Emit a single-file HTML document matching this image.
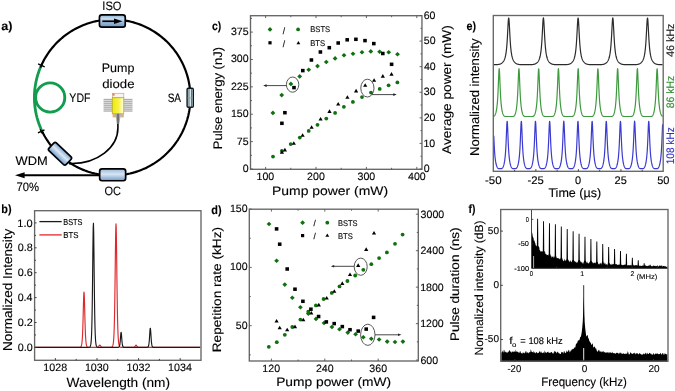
<!DOCTYPE html>
<html><head><meta charset="utf-8"><style>
html,body{margin:0;padding:0;background:#fff;}
svg{display:block;font-family:"Liberation Sans",sans-serif;will-change:transform;}
text{stroke-width:0.12px;paint-order:stroke;text-rendering:geometricPrecision;}
</style></head><body>
<svg width="675" height="391" viewBox="0 0 675 391" style="filter:blur(0.25px)">
<rect width="675" height="391" fill="#fff"/>
<text x="1.23" y="29.60" font-size="12.00" font-weight="bold" fill="#000" stroke="#000" textLength="11.20" lengthAdjust="spacingAndGlyphs">a)</text>
<path d="M41.33 65.37 L42.07 63.77 L42.85 62.19 L43.66 60.63 L44.51 59.09 L45.39 57.57 L46.31 56.07 L47.26 54.59 L48.25 53.13 L49.27 51.70 L50.31 50.28 L51.40 48.89 L52.51 47.53 L53.65 46.19 L54.82 44.88 L56.02 43.59 L57.25 42.34 L58.51 41.11 L59.80 39.91 L61.11 38.73 L62.45 37.59 L63.81 36.48 L65.20 35.40 L66.62 34.35 L68.05 33.33 L69.51 32.35 L70.99 31.40 L72.49 30.48 L74.01 29.60 L75.56 28.75 L77.12 27.94 L78.69 27.16 L80.29 26.42 L81.90 25.71 L83.53 25.04 L85.17 24.41 L86.83 23.81 L88.49 23.25 L90.18 22.73 L91.87 22.25 L93.57 21.81 L95.28 21.40 L97.00 21.03 L98.73 20.71 L100.47 20.42 L102.21 20.17 L103.96 19.96 L105.71 19.79 L107.46 19.66 L109.22 19.56 L110.98 19.51 L112.74 19.50 L114.50 19.53 L116.26 19.60 L118.01 19.70 L119.77 19.85 L121.52 20.03 L123.26 20.26 L125.00 20.52 L126.73 20.83 L128.46 21.17 L130.18 21.55 L131.89 21.97 L133.58 22.43 L135.27 22.93 L136.95 23.46 L138.61 24.04 L140.26 24.65 L141.90 25.29 L143.52 25.98 L145.13 26.70 L146.71 27.45 L148.29 28.25 L149.84 29.07 L151.37 29.93 L152.89 30.83 L154.38 31.76 L155.85 32.72 L157.30 33.72 L158.73 34.75 L160.13 35.81 L161.51 36.90 L162.87 38.03 L164.20 39.18 L165.50 40.36 L166.77 41.58 L168.02 42.82 L169.24 44.09 L170.43 45.38 L171.59 46.70 L172.72 48.05 L173.82 49.42 L174.89 50.82 L175.93 52.24 L176.93 53.69 L177.91 55.16 L178.84 56.64 L179.75 58.15 L180.62 59.68 L181.45 61.23 L182.26 62.80 L183.02 64.38 L183.75 65.98 L184.44 67.60 L185.10 69.23 L185.72 70.88 L186.30 72.54 L186.84 74.22 L187.35 75.90 L187.82 77.60 L188.25 79.30 L188.64 81.02 L188.99 82.74 L189.30 84.47 L189.58 86.21 L189.81 87.96 L190.01 89.70 L190.17 91.46 L190.28 93.21 L190.36 94.97 L190.40 96.73 L190.39 98.49 L190.35 100.25 L190.27 102.01 L190.15 103.76 L189.99 105.51 L189.79 107.26 L189.55 109.00 L189.27 110.74 L188.95 112.47 L188.59 114.20 L188.20 115.91 L187.76 117.62 L187.29 119.31 L186.78 120.99 L186.23 122.67 L185.64 124.32 L185.02 125.97 L184.36 127.60 L183.66 129.22 L182.93 130.82 L182.16 132.40 L181.35 133.96 L180.51 135.51 L179.64 137.04 L178.73 138.54 L177.79 140.03 L176.81 141.49 L175.80 142.93 L174.76 144.35 L173.69 145.75 L172.58 147.12 L171.45 148.46 L170.28 149.78 L169.09 151.07 L167.87 152.34 L166.62 153.58 L165.34 154.78 L164.03 155.96 L162.70 157.11 L161.34 158.23 L159.96 159.32 L158.55 160.38 L157.12 161.40 L155.67 162.40 L154.20 163.36 L152.70 164.28 L151.18 165.17 L149.65 166.03 L148.09 166.86 L146.52 167.64 L144.93 168.39 L143.32 169.11 L141.70 169.79 L140.06 170.43 L138.41 171.04 L136.74 171.60 L135.06 172.14 L133.37 172.63 L131.67 173.08 L129.96 173.50 L128.24 173.87 L126.52 174.21 L124.78 174.51 L123.04 174.77 L121.30 174.99 L119.55 175.17 L117.79 175.31 L116.04 175.42 L114.28 175.48 L112.52 175.50 L110.76 175.48 L109.00 175.43 L107.24 175.33 L105.49 175.19 L103.74 175.02 L101.99 174.80 L100.25 174.55 L98.52 174.25 L96.79 173.92 L95.07 173.55 L93.36 173.14 L91.66 172.69 L89.97 172.20 L88.29 171.68 L86.62 171.12 L84.97 170.52 L83.33 169.88 L81.70 169.20 L80.09 168.49 L78.50 167.75 L76.92 166.96 L75.36 166.15 L73.82 165.29 L72.30 164.41 L70.81 163.48 L69.33 162.53 L67.87 161.54 L66.44 160.52 L65.03 159.47 L63.64 158.38 L62.28 157.27 L60.95 156.12 L59.64 154.95 L58.35 153.74 L57.10 152.51 L55.87 151.25 L54.68 149.96 L53.51 148.64 L52.37 147.30 L51.26 145.93 L50.18 144.54 L49.14 143.13 L48.12 141.69 L47.14 140.23 L46.20 138.74 L45.28 137.24 L44.40 135.72 L43.56 134.17 L42.75 132.61 L41.98 131.03" fill="none" stroke="#000" stroke-width="2.2"/>
<path d="M41.98 131.03 L41.50 130.01 L41.03 128.98 L40.59 127.94 L40.15 126.90 L39.73 125.85 L39.33 124.79 L38.94 123.73 L38.57 122.66 L38.21 121.59 L37.87 120.52 L37.55 119.43 L37.24 118.35 L36.94 117.26 L36.67 116.16 L36.40 115.06 L36.16 113.96 L35.93 112.86 L35.71 111.75 L35.51 110.63 L35.33 109.52 L35.17 108.40 L35.02 107.28 L34.88 106.16 L34.76 105.04 L34.66 103.91 L34.58 102.79 L34.51 101.66 L34.46 100.53 L34.42 99.40 L34.40 98.27 L34.40 97.14 L34.41 96.01 L34.44 94.88 L34.49 93.75 L34.55 92.63 L34.63 91.50 L34.73 90.37 L34.84 89.25 L34.97 88.13 L35.11 87.01 L35.27 85.89 L35.45 84.77 L35.64 83.66 L35.85 82.55 L36.07 81.44 L36.31 80.34 L36.57 79.24 L36.84 78.14 L37.13 77.05 L37.43 75.96 L37.75 74.88 L38.09 73.80 L38.44 72.72 L38.81 71.66 L39.19 70.59 L39.59 69.54 L40.00 68.48 L40.43 67.44 L40.87 66.40 L41.33 65.37" fill="none" stroke="#129c4e" stroke-width="2.8"/>
<circle cx="50.2" cy="97.5" r="14.6" fill="none" stroke="#129c4e" stroke-width="2.9"/>
<g transform="translate(41.40 65.40) rotate(24)"><path d="M-3.6 0 H3.6 M0 -2.4 V2.4" stroke="#000" stroke-width="1.4"/></g>
<g transform="translate(41.20 131.40) rotate(-25)"><path d="M-3.6 0 H3.6 M0 -2.4 V2.4" stroke="#000" stroke-width="1.4"/></g>
<path d="M117.9 121 V128 A46 35.5 0 0 1 71.9 163.5 L69 163.6" fill="none" stroke="#000" stroke-width="1.6"/>
<path d="M22 175.3 L100 175.3" stroke="#000" stroke-width="2.0"/>
<path d="M15.0 175.3 L24.6 172.3 L24.6 178.3 Z" fill="#000"/>
<defs>
<linearGradient id="gb" x1="0" y1="0" x2="0" y2="1">
<stop offset="0" stop-color="#8fb2d8"/><stop offset="0.3" stop-color="#c8dcef"/><stop offset="0.55" stop-color="#a3c1e0"/><stop offset="1" stop-color="#6a93c2"/></linearGradient>
<linearGradient id="go" x1="0" y1="0" x2="0" y2="1">
<stop offset="0" stop-color="#9ab8da"/><stop offset="0.45" stop-color="#d8e6f3"/><stop offset="1" stop-color="#7199c6"/></linearGradient>
<linearGradient id="gw" x1="0" y1="0" x2="0" y2="1">
<stop offset="0" stop-color="#7ea5d0"/><stop offset="0.45" stop-color="#dce9f5"/><stop offset="1" stop-color="#6f98c6"/></linearGradient>
<linearGradient id="gy" x1="0" y1="0" x2="1" y2="0">
<stop offset="0" stop-color="#f0ea00"/><stop offset="0.55" stop-color="#f7f24a"/><stop offset="1" stop-color="#ffffe8"/></linearGradient>
<linearGradient id="gsa" x1="0" y1="0" x2="1" y2="0">
<stop offset="0" stop-color="#bfe3ea"/><stop offset="0.5" stop-color="#eefafc"/><stop offset="1" stop-color="#bfe3ea"/></linearGradient>
</defs>
<rect x="99.45" y="14.9" width="25.8" height="12.3" rx="2.4" fill="url(#gb)" stroke="#000" stroke-width="1.7"/>
<path d="M102.3 21.25 L115 21.25" stroke="#000" stroke-width="1.7"/>
<path d="M114 18.4 L122.6 21.2 L114 23.9 Z" fill="#000"/>
<rect x="99.65" y="168.95" width="26" height="11.8" rx="2.4" fill="url(#go)" stroke="#000" stroke-width="1.7"/>
<g transform="translate(60.0 153.8) rotate(43.5)"><rect x="-11.85" y="-5.4" width="23.7" height="10.8" rx="2" fill="url(#gw)" stroke="#000" stroke-width="1.7"/></g>
<rect x="187.1" y="88.3" width="6.2" height="19.0" rx="1.2" fill="url(#gsa)" stroke="#0c161a" stroke-width="1.4"/>
<path d="M189.0 89 V107.4 M191.4 89 V107.4" stroke="#1e3a42" stroke-width="0.75"/>
<path d="M187.6 98 H192.8" stroke="#9a9a9a" stroke-width="0.9"/>
<rect x="103.6" y="98.8" width="29" height="12.8" fill="#e4e4e4"/>
<path d="M103.6 99.40 H132.4" stroke="#8c8c8c" stroke-width="0.7"/>
<path d="M103.6 101.35 H132.4" stroke="#8c8c8c" stroke-width="0.7"/>
<path d="M103.6 103.30 H132.4" stroke="#8c8c8c" stroke-width="0.7"/>
<path d="M103.6 105.25 H132.4" stroke="#8c8c8c" stroke-width="0.7"/>
<path d="M103.6 107.20 H132.4" stroke="#8c8c8c" stroke-width="0.7"/>
<path d="M103.6 109.15 H132.4" stroke="#8c8c8c" stroke-width="0.7"/>
<path d="M103.6 111.10 H132.4" stroke="#8c8c8c" stroke-width="0.7"/>
<rect x="112.4" y="93.3" width="11.4" height="4.6" fill="#fbf3ee" stroke="#d8a080" stroke-width="0.7"/>
<rect x="112.6" y="93.6" width="2" height="2" fill="#d0805a"/>
<rect x="112.2" y="97.8" width="11.6" height="16" fill="url(#gy)" stroke="#9a9a30" stroke-width="0.6"/>
<rect x="112.6" y="113.8" width="3.4" height="3.6" fill="#d8b08a"/>
<rect x="120.6" y="113.8" width="3.2" height="3.6" fill="#d8b08a"/>
<path d="M115.4 113.8 L121 113.8 L119.2 124 L116.8 124 Z" fill="#a8a8a8"/>
<path d="M118.0 113.8 V124" stroke="#333" stroke-width="0.9"/>
<text x="102.37" y="10.20" font-size="12.20" fill="#000" stroke="#000" textLength="19.16" lengthAdjust="spacingAndGlyphs">ISO</text>
<text x="101.77" y="72.40" font-size="12.20" fill="#000" stroke="#000" textLength="32.65" lengthAdjust="spacingAndGlyphs">Pump</text>
<text x="102.25" y="88.20" font-size="12.20" fill="#000" stroke="#000" textLength="32.24" lengthAdjust="spacingAndGlyphs">diode</text>
<text x="69.37" y="101.70" font-size="12.20" fill="#000" stroke="#000" textLength="21.05" lengthAdjust="spacingAndGlyphs">YDF</text>
<text x="167.64" y="101.70" font-size="12.20" fill="#000" stroke="#000" textLength="13.48" lengthAdjust="spacingAndGlyphs">SA</text>
<text x="15.64" y="164.90" font-size="12.20" fill="#000" stroke="#000" textLength="32.21" lengthAdjust="spacingAndGlyphs">WDM</text>
<text x="16.52" y="190.80" font-size="12.20" fill="#000" stroke="#000" textLength="22.58" lengthAdjust="spacingAndGlyphs">70%</text>
<text x="104.38" y="195.30" font-size="12.20" fill="#000" stroke="#000" textLength="16.54" lengthAdjust="spacingAndGlyphs">OC</text>
<text x="1.28" y="213.20" font-size="12.00" font-weight="bold" fill="#000" stroke="#000" textLength="10.26" lengthAdjust="spacingAndGlyphs">b)</text>
<path d="M35.20 347.40 L35.45 347.40 L35.70 347.40 L35.95 347.40 L36.20 347.40 L36.45 347.40 L36.70 347.40 L36.95 347.40 L37.20 347.40 L37.45 347.40 L37.70 347.40 L37.95 347.40 L38.20 347.40 L38.45 347.40 L38.70 347.40 L38.95 347.40 L39.20 347.40 L39.45 347.40 L39.70 347.40 L39.95 347.40 L40.20 347.40 L40.45 347.40 L40.70 347.40 L40.95 347.40 L41.20 347.40 L41.45 347.40 L41.70 347.40 L41.95 347.40 L42.20 347.40 L42.45 347.40 L42.70 347.40 L42.95 347.40 L43.20 347.40 L43.45 347.40 L43.70 347.40 L43.95 347.40 L44.20 347.40 L44.45 347.40 L44.70 347.40 L44.95 347.40 L45.20 347.40 L45.45 347.40 L45.70 347.40 L45.95 347.40 L46.20 347.40 L46.45 347.40 L46.70 347.40 L46.95 347.40 L47.20 347.40 L47.45 347.40 L47.70 347.40 L47.95 347.40 L48.20 347.40 L48.45 347.40 L48.70 347.40 L48.95 347.40 L49.20 347.40 L49.45 347.40 L49.70 347.40 L49.95 347.40 L50.20 347.40 L50.45 347.40 L50.70 347.40 L50.95 347.40 L51.20 347.40 L51.45 347.40 L51.70 347.40 L51.95 347.40 L52.20 347.40 L52.45 347.40 L52.70 347.40 L52.95 347.40 L53.20 347.40 L53.45 347.40 L53.70 347.40 L53.95 347.40 L54.20 347.40 L54.45 347.40 L54.70 347.40 L54.95 347.40 L55.20 347.40 L55.45 347.40 L55.70 347.40 L55.95 347.40 L56.20 347.40 L56.45 347.40 L56.70 347.40 L56.95 347.40 L57.20 347.40 L57.45 347.40 L57.70 347.40 L57.95 347.40 L58.20 347.40 L58.45 347.40 L58.70 347.40 L58.95 347.40 L59.20 347.40 L59.45 347.40 L59.70 347.40 L59.95 347.40 L60.20 347.40 L60.45 347.40 L60.70 347.40 L60.95 347.40 L61.20 347.40 L61.45 347.40 L61.70 347.40 L61.95 347.40 L62.20 347.40 L62.45 347.40 L62.70 347.40 L62.95 347.40 L63.20 347.40 L63.45 347.40 L63.70 347.40 L63.95 347.40 L64.20 347.40 L64.45 347.40 L64.70 347.40 L64.95 347.40 L65.20 347.40 L65.45 347.40 L65.70 347.40 L65.95 347.40 L66.20 347.40 L66.45 347.40 L66.70 347.40 L66.95 347.40 L67.20 347.40 L67.45 347.40 L67.70 347.40 L67.95 347.40 L68.20 347.40 L68.45 347.40 L68.70 347.40 L68.95 347.40 L69.20 347.40 L69.45 347.40 L69.70 347.40 L69.95 347.40 L70.20 347.40 L70.45 347.40 L70.70 347.40 L70.95 347.40 L71.20 347.40 L71.45 347.40 L71.70 347.40 L71.95 347.40 L72.20 347.40 L72.45 347.40 L72.70 347.40 L72.95 347.40 L73.20 347.40 L73.45 347.40 L73.70 347.40 L73.95 347.40 L74.20 347.40 L74.45 347.40 L74.70 347.40 L74.95 347.40 L75.20 347.40 L75.45 347.40 L75.70 347.40 L75.95 347.40 L76.20 347.40 L76.45 347.40 L76.70 347.40 L76.95 347.40 L77.20 347.40 L77.45 347.40 L77.70 347.40 L77.95 347.40 L78.20 347.40 L78.45 347.39 L78.70 347.39 L78.95 347.38 L79.20 347.37 L79.45 347.35 L79.70 347.32 L79.95 347.28 L80.20 347.21 L80.45 347.10 L80.70 346.92 L80.95 346.63 L81.20 346.19 L81.45 345.48 L81.70 344.38 L81.95 342.68 L82.20 340.08 L82.45 336.21 L82.70 330.68 L82.95 323.21 L83.20 314.02 L83.45 304.25 L83.70 296.08 L83.95 292.12 L84.20 293.86 L84.45 300.64 L84.70 310.08 L84.95 319.70 L85.20 327.93 L85.45 334.22 L85.70 338.71 L85.95 341.76 L86.20 343.79 L86.45 345.10 L86.70 345.94 L86.95 346.48 L87.20 346.82 L87.45 347.03 L87.70 347.17 L87.95 347.25 L88.20 347.31 L88.45 347.34 L88.70 347.36 L88.95 347.38 L89.20 347.39 L89.45 347.39 L89.70 347.39 L89.95 347.40 L90.20 347.40 L90.45 347.40 L90.70 347.40 L90.95 347.40 L91.20 347.40 L91.45 347.40 L91.70 347.40 L91.95 347.40 L92.20 347.40 L92.45 347.40 L92.70 347.40 L92.95 347.40 L93.20 347.40 L93.45 347.40 L93.70 347.40 L93.95 347.40 L94.20 347.40 L94.45 347.40 L94.70 347.40 L94.95 347.40 L95.20 347.39 L95.45 347.39 L95.70 347.39 L95.95 347.38 L96.20 347.37 L96.45 347.36 L96.70 347.34 L96.95 347.31 L97.20 347.27 L97.45 347.20 L97.70 347.11 L97.95 346.98 L98.20 346.81 L98.45 346.57 L98.70 346.28 L98.95 345.95 L99.20 345.61 L99.45 345.33 L99.70 345.17 L99.95 345.19 L100.20 345.37 L100.45 345.67 L100.70 346.01 L100.95 346.34 L101.20 346.62 L101.45 346.84 L101.70 347.01 L101.95 347.13 L102.20 347.22 L102.45 347.28 L102.70 347.32 L102.95 347.34 L103.20 347.36 L103.45 347.37 L103.70 347.38 L103.95 347.39 L104.20 347.39 L104.45 347.39 L104.70 347.40 L104.95 347.40 L105.20 347.40 L105.45 347.40 L105.70 347.40 L105.95 347.40 L106.20 347.40 L106.45 347.40 L106.70 347.40 L106.95 347.40 L107.20 347.40 L107.45 347.40 L107.70 347.40 L107.95 347.40 L108.20 347.40 L108.45 347.40 L108.70 347.40 L108.95 347.40 L109.20 347.40 L109.45 347.40 L109.70 347.39 L109.95 347.39 L110.20 347.38 L110.45 347.37 L110.70 347.36 L110.95 347.33 L111.20 347.30 L111.45 347.24 L111.70 347.15 L111.95 347.01 L112.20 346.79 L112.45 346.46 L112.70 345.94 L112.95 345.13 L113.20 343.89 L113.45 341.99 L113.70 339.10 L113.95 334.74 L114.20 328.29 L114.45 318.99 L114.70 306.09 L114.95 289.27 L115.20 269.26 L115.45 248.62 L115.70 231.80 L115.95 223.76 L116.20 227.29 L116.45 241.14 L116.70 260.87 L116.95 281.55 L117.20 299.82 L117.45 314.29 L117.70 324.96 L117.95 332.45 L118.20 337.56 L118.45 340.98 L118.70 343.23 L118.95 344.70 L119.20 345.65 L119.45 346.27 L119.70 346.67 L119.95 346.93 L120.20 347.10 L120.45 347.21 L120.70 347.28 L120.95 347.32 L121.20 347.35 L121.45 347.37 L121.70 347.38 L121.95 347.39 L122.20 347.39 L122.45 347.39 L122.70 347.40 L122.95 347.40 L123.20 347.40 L123.45 347.40 L123.70 347.40 L123.95 347.40 L124.20 347.40 L124.45 347.40 L124.70 347.40 L124.95 347.40 L125.20 347.40 L125.45 347.40 L125.70 347.40 L125.95 347.40 L126.20 347.40 L126.45 347.40 L126.70 347.40 L126.95 347.40 L127.20 347.40 L127.45 347.40 L127.70 347.40 L127.95 347.40 L128.20 347.40 L128.45 347.40 L128.70 347.40 L128.95 347.40 L129.20 347.40 L129.45 347.40 L129.70 347.40 L129.95 347.40 L130.20 347.40 L130.45 347.40 L130.70 347.40 L130.95 347.40 L131.20 347.40 L131.45 347.40 L131.70 347.40 L131.95 347.39 L132.20 347.39 L132.45 347.38 L132.70 347.37 L132.95 347.36 L133.20 347.34 L133.45 347.30 L133.70 347.25 L133.95 347.17 L134.20 347.05 L134.45 346.89 L134.70 346.65 L134.95 346.35 L135.20 345.99 L135.45 345.61 L135.70 345.31 L135.95 345.16 L136.20 345.23 L136.45 345.48 L136.70 345.83 L136.95 346.21 L137.20 346.54 L137.45 346.80 L137.70 346.99 L137.95 347.13 L138.20 347.22 L138.45 347.28 L138.70 347.32 L138.95 347.35 L139.20 347.37 L139.45 347.38 L139.70 347.39 L139.95 347.39 L140.20 347.39 L140.45 347.40 L140.70 347.40 L140.95 347.40 L141.20 347.40 L141.45 347.40 L141.70 347.40 L141.95 347.40 L142.20 347.40 L142.45 347.40 L142.70 347.40 L142.95 347.40 L143.20 347.40 L143.45 347.40 L143.70 347.40 L143.95 347.40 L144.20 347.40 L144.45 347.40 L144.70 347.40 L144.95 347.40 L145.20 347.40 L145.45 347.40 L145.70 347.40 L145.95 347.40 L146.20 347.40 L146.45 347.40 L146.70 347.40 L146.95 347.40 L147.20 347.40 L147.45 347.40 L147.70 347.40 L147.95 347.40 L148.20 347.40 L148.45 347.40 L148.70 347.40 L148.95 347.40 L149.20 347.40 L149.45 347.40 L149.70 347.40 L149.95 347.40 L150.20 347.40 L150.45 347.40 L150.70 347.40 L150.95 347.40 L151.20 347.40 L151.45 347.40 L151.70 347.40 L151.95 347.40 L152.20 347.40 L152.45 347.40 L152.70 347.40 L152.95 347.40 L153.20 347.40 L153.45 347.40 L153.70 347.40 L153.95 347.40 L154.20 347.40 L154.45 347.40 L154.70 347.40 L154.95 347.40 L155.20 347.40 L155.45 347.40 L155.70 347.40 L155.95 347.40 L156.20 347.40 L156.45 347.40 L156.70 347.40 L156.95 347.40 L157.20 347.40 L157.45 347.40 L157.70 347.40 L157.95 347.40 L158.20 347.40 L158.45 347.40 L158.70 347.40 L158.95 347.40 L159.20 347.40 L159.45 347.40 L159.70 347.40 L159.95 347.40 L160.20 347.40 L160.45 347.40 L160.70 347.40 L160.95 347.40 L161.20 347.40 L161.45 347.40 L161.70 347.40 L161.95 347.40 L162.20 347.40 L162.45 347.40 L162.70 347.40 L162.95 347.40 L163.20 347.40 L163.45 347.40 L163.70 347.40 L163.95 347.40 L164.20 347.40 L164.45 347.40 L164.70 347.40 L164.95 347.40 L165.20 347.40 L165.45 347.40 L165.70 347.40 L165.95 347.40 L166.20 347.40 L166.45 347.40 L166.70 347.40 L166.95 347.40 L167.20 347.40 L167.45 347.40 L167.70 347.40 L167.95 347.40 L168.20 347.40 L168.45 347.40 L168.70 347.40 L168.95 347.40 L169.20 347.40 L169.45 347.40 L169.70 347.40 L169.95 347.40 L170.20 347.40 L170.45 347.40 L170.70 347.40 L170.95 347.40 L171.20 347.40 L171.45 347.40 L171.70 347.40 L171.95 347.40 L172.20 347.40 L172.45 347.40 L172.70 347.40 L172.95 347.40 L173.20 347.40 L173.45 347.40 L173.70 347.40 L173.95 347.40 L174.20 347.40 L174.45 347.40 L174.70 347.40 L174.95 347.40 L175.20 347.40 L175.45 347.40 L175.70 347.40 L175.95 347.40 L176.20 347.40 L176.45 347.40 L176.70 347.40 L176.95 347.40 L177.20 347.40 L177.45 347.40 L177.70 347.40 L177.95 347.40 L178.20 347.40 L178.45 347.40 L178.70 347.40 L178.95 347.40 L179.20 347.40 L179.45 347.40 L179.70 347.40 L179.95 347.40 L180.20 347.40 L180.45 347.40 L180.70 347.40 L180.95 347.40 L181.20 347.40 L181.45 347.40 L181.70 347.40 L181.95 347.40 L182.20 347.40 L182.45 347.40 L182.70 347.40 L182.95 347.40 L183.20 347.40 L183.45 347.40 L183.70 347.40 L183.95 347.40 L184.20 347.40 L184.45 347.40 L184.70 347.40 L184.95 347.40 L185.20 347.40 L185.45 347.40 L185.70 347.40 L185.95 347.40 L186.20 347.40 L186.45 347.40 L186.70 347.40 L186.95 347.40 L187.20 347.40 L187.45 347.40 L187.70 347.40 L187.95 347.40 L188.20 347.40 L188.45 347.40 L188.70 347.40 L188.95 347.40 L189.20 347.40 L189.45 347.40 L189.70 347.40 L189.95 347.40 L190.20 347.40 L190.45 347.40 L190.70 347.40 L190.95 347.40 L191.20 347.40 L191.45 347.40 L191.70 347.40 L191.95 347.40 L192.20 347.40 L192.45 347.40 L192.70 347.40 L192.95 347.40 L193.20 347.40 L193.45 347.40 L193.70 347.40 L193.95 347.40 L194.20 347.40 L194.45 347.40 L194.70 347.40 L194.95 347.40 L195.20 347.40 L195.45 347.40 L195.70 347.40 L195.95 347.40 L196.20 347.40 L196.45 347.40 L196.70 347.40 L196.95 347.40 L197.20 347.40 L197.45 347.40 L197.70 347.40 L197.95 347.40 L198.20 347.40 L198.45 347.40 L198.70 347.40 L198.95 347.40 L199.20 347.40 L199.45 347.40 L199.70 347.40 L199.95 347.40 L200.20 347.40" fill="none" stroke="#e0282c" stroke-width="1.15" stroke-linejoin="round"/>
<path d="M35.20 347.40 L35.45 347.40 L35.70 347.40 L35.95 347.40 L36.20 347.40 L36.45 347.40 L36.70 347.40 L36.95 347.40 L37.20 347.40 L37.45 347.40 L37.70 347.40 L37.95 347.40 L38.20 347.40 L38.45 347.40 L38.70 347.40 L38.95 347.40 L39.20 347.40 L39.45 347.40 L39.70 347.40 L39.95 347.40 L40.20 347.40 L40.45 347.40 L40.70 347.40 L40.95 347.40 L41.20 347.40 L41.45 347.40 L41.70 347.40 L41.95 347.40 L42.20 347.40 L42.45 347.40 L42.70 347.40 L42.95 347.40 L43.20 347.40 L43.45 347.40 L43.70 347.40 L43.95 347.40 L44.20 347.40 L44.45 347.40 L44.70 347.40 L44.95 347.40 L45.20 347.40 L45.45 347.40 L45.70 347.40 L45.95 347.40 L46.20 347.40 L46.45 347.40 L46.70 347.40 L46.95 347.40 L47.20 347.40 L47.45 347.40 L47.70 347.40 L47.95 347.40 L48.20 347.40 L48.45 347.40 L48.70 347.40 L48.95 347.40 L49.20 347.40 L49.45 347.40 L49.70 347.40 L49.95 347.40 L50.20 347.40 L50.45 347.40 L50.70 347.40 L50.95 347.40 L51.20 347.40 L51.45 347.40 L51.70 347.40 L51.95 347.40 L52.20 347.40 L52.45 347.40 L52.70 347.40 L52.95 347.40 L53.20 347.40 L53.45 347.40 L53.70 347.40 L53.95 347.40 L54.20 347.40 L54.45 347.40 L54.70 347.40 L54.95 347.40 L55.20 347.40 L55.45 347.40 L55.70 347.40 L55.95 347.40 L56.20 347.40 L56.45 347.40 L56.70 347.40 L56.95 347.40 L57.20 347.40 L57.45 347.40 L57.70 347.40 L57.95 347.40 L58.20 347.40 L58.45 347.40 L58.70 347.40 L58.95 347.40 L59.20 347.40 L59.45 347.40 L59.70 347.40 L59.95 347.40 L60.20 347.40 L60.45 347.40 L60.70 347.40 L60.95 347.40 L61.20 347.40 L61.45 347.40 L61.70 347.40 L61.95 347.40 L62.20 347.40 L62.45 347.40 L62.70 347.40 L62.95 347.40 L63.20 347.40 L63.45 347.40 L63.70 347.40 L63.95 347.40 L64.20 347.40 L64.45 347.40 L64.70 347.40 L64.95 347.40 L65.20 347.40 L65.45 347.40 L65.70 347.40 L65.95 347.40 L66.20 347.40 L66.45 347.40 L66.70 347.40 L66.95 347.40 L67.20 347.40 L67.45 347.40 L67.70 347.40 L67.95 347.40 L68.20 347.40 L68.45 347.40 L68.70 347.40 L68.95 347.40 L69.20 347.40 L69.45 347.40 L69.70 347.40 L69.95 347.40 L70.20 347.40 L70.45 347.40 L70.70 347.40 L70.95 347.40 L71.20 347.40 L71.45 347.40 L71.70 347.40 L71.95 347.40 L72.20 347.40 L72.45 347.40 L72.70 347.40 L72.95 347.40 L73.20 347.40 L73.45 347.40 L73.70 347.40 L73.95 347.40 L74.20 347.40 L74.45 347.40 L74.70 347.40 L74.95 347.40 L75.20 347.40 L75.45 347.40 L75.70 347.40 L75.95 347.40 L76.20 347.40 L76.45 347.40 L76.70 347.40 L76.95 347.40 L77.20 347.40 L77.45 347.40 L77.70 347.40 L77.95 347.40 L78.20 347.40 L78.45 347.40 L78.70 347.40 L78.95 347.40 L79.20 347.40 L79.45 347.40 L79.70 347.40 L79.95 347.40 L80.20 347.40 L80.45 347.40 L80.70 347.40 L80.95 347.40 L81.20 347.40 L81.45 347.40 L81.70 347.40 L81.95 347.40 L82.20 347.40 L82.45 347.40 L82.70 347.40 L82.95 347.40 L83.20 347.40 L83.45 347.40 L83.70 347.40 L83.95 347.40 L84.20 347.40 L84.45 347.40 L84.70 347.40 L84.95 347.40 L85.20 347.40 L85.45 347.40 L85.70 347.40 L85.95 347.40 L86.20 347.40 L86.45 347.40 L86.70 347.40 L86.95 347.40 L87.20 347.40 L87.45 347.40 L87.70 347.39 L87.95 347.39 L88.20 347.38 L88.45 347.37 L88.70 347.35 L88.95 347.32 L89.20 347.27 L89.45 347.18 L89.70 347.05 L89.95 346.82 L90.20 346.46 L90.45 345.87 L90.70 344.91 L90.95 343.37 L91.20 340.88 L91.45 336.94 L91.70 330.79 L91.95 321.44 L92.20 307.84 L92.45 289.39 L92.70 267.00 L92.95 244.27 L93.20 227.56 L93.45 223.20 L93.70 233.06 L93.95 253.04 L94.20 276.27 L94.45 297.34 L94.70 313.85 L94.95 325.63 L95.20 333.57 L95.45 338.74 L95.70 342.02 L95.95 344.07 L96.20 345.35 L96.45 346.14 L96.70 346.63 L96.95 346.93 L97.20 347.11 L97.45 347.22 L97.70 347.29 L97.95 347.33 L98.20 347.36 L98.45 347.37 L98.70 347.38 L98.95 347.39 L99.20 347.39 L99.45 347.40 L99.70 347.40 L99.95 347.40 L100.20 347.40 L100.45 347.40 L100.70 347.40 L100.95 347.40 L101.20 347.40 L101.45 347.40 L101.70 347.40 L101.95 347.40 L102.20 347.40 L102.45 347.40 L102.70 347.40 L102.95 347.40 L103.20 347.40 L103.45 347.40 L103.70 347.40 L103.95 347.40 L104.20 347.40 L104.45 347.40 L104.70 347.40 L104.95 347.40 L105.20 347.40 L105.45 347.40 L105.70 347.40 L105.95 347.40 L106.20 347.40 L106.45 347.40 L106.70 347.40 L106.95 347.40 L107.20 347.40 L107.45 347.40 L107.70 347.40 L107.95 347.40 L108.20 347.40 L108.45 347.40 L108.70 347.40 L108.95 347.40 L109.20 347.40 L109.45 347.40 L109.70 347.40 L109.95 347.40 L110.20 347.40 L110.45 347.40 L110.70 347.40 L110.95 347.40 L111.20 347.40 L111.45 347.40 L111.70 347.40 L111.95 347.40 L112.20 347.40 L112.45 347.40 L112.70 347.40 L112.95 347.40 L113.20 347.40 L113.45 347.40 L113.70 347.40 L113.95 347.40 L114.20 347.40 L114.45 347.40 L114.70 347.40 L114.95 347.40 L115.20 347.40 L115.45 347.40 L115.70 347.40 L115.95 347.40 L116.20 347.40 L116.45 347.40 L116.70 347.40 L116.95 347.40 L117.20 347.39 L117.45 347.39 L117.70 347.38 L117.95 347.36 L118.20 347.33 L118.45 347.28 L118.70 347.18 L118.95 347.01 L119.20 346.71 L119.45 346.18 L119.70 345.28 L119.95 343.80 L120.20 341.52 L120.45 338.43 L120.70 335.03 L120.95 332.55 L121.20 332.30 L121.45 334.41 L121.70 337.74 L121.95 340.96 L122.20 343.41 L122.45 345.04 L122.70 346.04 L122.95 346.63 L123.20 346.97 L123.45 347.16 L123.70 347.26 L123.95 347.32 L124.20 347.36 L124.45 347.38 L124.70 347.39 L124.95 347.39 L125.20 347.40 L125.45 347.40 L125.70 347.40 L125.95 347.40 L126.20 347.40 L126.45 347.40 L126.70 347.40 L126.95 347.40 L127.20 347.40 L127.45 347.40 L127.70 347.40 L127.95 347.40 L128.20 347.40 L128.45 347.40 L128.70 347.40 L128.95 347.40 L129.20 347.40 L129.45 347.40 L129.70 347.40 L129.95 347.40 L130.20 347.40 L130.45 347.40 L130.70 347.40 L130.95 347.40 L131.20 347.40 L131.45 347.40 L131.70 347.40 L131.95 347.40 L132.20 347.40 L132.45 347.40 L132.70 347.40 L132.95 347.40 L133.20 347.40 L133.45 347.40 L133.70 347.40 L133.95 347.40 L134.20 347.40 L134.45 347.40 L134.70 347.40 L134.95 347.40 L135.20 347.40 L135.45 347.40 L135.70 347.40 L135.95 347.40 L136.20 347.40 L136.45 347.40 L136.70 347.40 L136.95 347.40 L137.20 347.40 L137.45 347.40 L137.70 347.40 L137.95 347.40 L138.20 347.40 L138.45 347.40 L138.70 347.40 L138.95 347.40 L139.20 347.40 L139.45 347.40 L139.70 347.40 L139.95 347.40 L140.20 347.40 L140.45 347.40 L140.70 347.40 L140.95 347.40 L141.20 347.40 L141.45 347.40 L141.70 347.40 L141.95 347.40 L142.20 347.40 L142.45 347.40 L142.70 347.40 L142.95 347.40 L143.20 347.40 L143.45 347.40 L143.70 347.40 L143.95 347.40 L144.20 347.40 L144.45 347.40 L144.70 347.40 L144.95 347.40 L145.20 347.40 L145.45 347.40 L145.70 347.40 L145.95 347.39 L146.20 347.39 L146.45 347.38 L146.70 347.37 L146.95 347.35 L147.20 347.32 L147.45 347.26 L147.70 347.15 L147.95 346.97 L148.20 346.66 L148.45 346.13 L148.70 345.24 L148.95 343.81 L149.20 341.59 L149.45 338.43 L149.70 334.49 L149.95 330.60 L150.20 328.21 L150.45 328.50 L150.70 331.31 L150.95 335.31 L151.20 339.14 L151.45 342.11 L151.70 344.15 L151.95 345.46 L152.20 346.25 L152.45 346.73 L152.70 347.01 L152.95 347.18 L153.20 347.27 L153.45 347.33 L153.70 347.36 L153.95 347.38 L154.20 347.39 L154.45 347.39 L154.70 347.40 L154.95 347.40 L155.20 347.40 L155.45 347.40 L155.70 347.40 L155.95 347.40 L156.20 347.40 L156.45 347.40 L156.70 347.40 L156.95 347.40 L157.20 347.40 L157.45 347.40 L157.70 347.40 L157.95 347.40 L158.20 347.40 L158.45 347.40 L158.70 347.40 L158.95 347.40 L159.20 347.40 L159.45 347.40 L159.70 347.40 L159.95 347.40 L160.20 347.40 L160.45 347.40 L160.70 347.40 L160.95 347.40 L161.20 347.40 L161.45 347.40 L161.70 347.40 L161.95 347.40 L162.20 347.40 L162.45 347.40 L162.70 347.40 L162.95 347.40 L163.20 347.40 L163.45 347.40 L163.70 347.40 L163.95 347.40 L164.20 347.40 L164.45 347.40 L164.70 347.40 L164.95 347.40 L165.20 347.40 L165.45 347.40 L165.70 347.40 L165.95 347.40 L166.20 347.40 L166.45 347.40 L166.70 347.40 L166.95 347.40 L167.20 347.40 L167.45 347.40 L167.70 347.40 L167.95 347.40 L168.20 347.40 L168.45 347.40 L168.70 347.40 L168.95 347.40 L169.20 347.40 L169.45 347.40 L169.70 347.40 L169.95 347.40 L170.20 347.40 L170.45 347.40 L170.70 347.40 L170.95 347.40 L171.20 347.40 L171.45 347.40 L171.70 347.40 L171.95 347.40 L172.20 347.40 L172.45 347.40 L172.70 347.40 L172.95 347.40 L173.20 347.40 L173.45 347.40 L173.70 347.40 L173.95 347.40 L174.20 347.40 L174.45 347.40 L174.70 347.40 L174.95 347.40 L175.20 347.40 L175.45 347.40 L175.70 347.40 L175.95 347.40 L176.20 347.40 L176.45 347.40 L176.70 347.40 L176.95 347.40 L177.20 347.40 L177.45 347.40 L177.70 347.40 L177.95 347.40 L178.20 347.40 L178.45 347.40 L178.70 347.40 L178.95 347.40 L179.20 347.40 L179.45 347.40 L179.70 347.40 L179.95 347.40 L180.20 347.40 L180.45 347.40 L180.70 347.40 L180.95 347.40 L181.20 347.40 L181.45 347.40 L181.70 347.40 L181.95 347.40 L182.20 347.40 L182.45 347.40 L182.70 347.40 L182.95 347.40 L183.20 347.40 L183.45 347.40 L183.70 347.40 L183.95 347.40 L184.20 347.40 L184.45 347.40 L184.70 347.40 L184.95 347.40 L185.20 347.40 L185.45 347.40 L185.70 347.40 L185.95 347.40 L186.20 347.40 L186.45 347.40 L186.70 347.40 L186.95 347.40 L187.20 347.40 L187.45 347.40 L187.70 347.40 L187.95 347.40 L188.20 347.40 L188.45 347.40 L188.70 347.40 L188.95 347.40 L189.20 347.40 L189.45 347.40 L189.70 347.40 L189.95 347.40 L190.20 347.40 L190.45 347.40 L190.70 347.40 L190.95 347.40 L191.20 347.40 L191.45 347.40 L191.70 347.40 L191.95 347.40 L192.20 347.40 L192.45 347.40 L192.70 347.40 L192.95 347.40 L193.20 347.40 L193.45 347.40 L193.70 347.40 L193.95 347.40 L194.20 347.40 L194.45 347.40 L194.70 347.40 L194.95 347.40 L195.20 347.40 L195.45 347.40 L195.70 347.40 L195.95 347.40 L196.20 347.40 L196.45 347.40 L196.70 347.40 L196.95 347.40 L197.20 347.40 L197.45 347.40 L197.70 347.40 L197.95 347.40 L198.20 347.40 L198.45 347.40 L198.70 347.40 L198.95 347.40 L199.20 347.40 L199.45 347.40 L199.70 347.40 L199.95 347.40 L200.20 347.40" fill="none" stroke="#1a1a1a" stroke-width="1.15" stroke-linejoin="round"/>
<rect x="34.60" y="210.70" width="166.40" height="149.60" fill="none" stroke="#666" stroke-width="1.35"/>
<path d="M55.40 360.30 v-2.20 M97.00 360.30 v-2.20 M138.60 360.30 v-2.20 M180.20 360.30 v-2.20" stroke="#333" stroke-width="0.90"/>
<path d="M76.20 360.30 v-1.40 M117.80 360.30 v-1.40 M159.40 360.30 v-1.40" stroke="#333" stroke-width="0.90"/>
<path d="M34.60 347.40 h2.00 M34.60 322.50 h2.00 M34.60 297.60 h2.00 M34.60 272.70 h2.00 M34.60 247.80 h2.00 M34.60 222.90 h2.00" stroke="#333" stroke-width="0.90"/>
<path d="M34.60 334.95 h1.40 M34.60 310.05 h1.40 M34.60 285.15 h1.40 M34.60 260.25 h1.40 M34.60 235.35 h1.40" stroke="#333" stroke-width="0.90"/>
<path d="M39.4 221.6 H61.7" stroke="#1a1a1a" stroke-width="1.3"/>
<path d="M39.4 234.9 H61.7" stroke="#e0282c" stroke-width="1.3"/>
<text x="63.30" y="224.90" font-size="8.60" fill="#000" stroke="#000" textLength="19.14" lengthAdjust="spacingAndGlyphs">BSTS</text>
<text x="63.26" y="238.00" font-size="8.60" fill="#000" stroke="#000" textLength="15.20" lengthAdjust="spacingAndGlyphs">BTS</text>
<text x="17.26" y="226.50" font-size="10.70" fill="#000" stroke="#000" textLength="15.37" lengthAdjust="spacingAndGlyphs">1.0</text>
<text x="17.68" y="251.42" font-size="10.70" fill="#000" stroke="#000" textLength="14.99" lengthAdjust="spacingAndGlyphs">0.8</text>
<text x="17.68" y="276.34" font-size="10.70" fill="#000" stroke="#000" textLength="15.00" lengthAdjust="spacingAndGlyphs">0.6</text>
<text x="17.68" y="301.26" font-size="10.70" fill="#000" stroke="#000" textLength="14.83" lengthAdjust="spacingAndGlyphs">0.4</text>
<text x="17.68" y="326.18" font-size="10.70" fill="#000" stroke="#000" textLength="15.07" lengthAdjust="spacingAndGlyphs">0.2</text>
<text x="17.68" y="351.10" font-size="10.70" fill="#000" stroke="#000" textLength="14.94" lengthAdjust="spacingAndGlyphs">0.0</text>
<text x="43.32" y="371.10" font-size="10.70" fill="#000" stroke="#000" textLength="23.80" lengthAdjust="spacingAndGlyphs">1028</text>
<text x="84.90" y="371.10" font-size="10.70" fill="#000" stroke="#000" textLength="23.80" lengthAdjust="spacingAndGlyphs">1030</text>
<text x="126.56" y="371.10" font-size="10.70" fill="#000" stroke="#000" textLength="23.80" lengthAdjust="spacingAndGlyphs">1032</text>
<text x="168.05" y="371.10" font-size="10.70" fill="#000" stroke="#000" textLength="23.80" lengthAdjust="spacingAndGlyphs">1034</text>
<text x="66.54" y="386.60" font-size="13.20" fill="#000" stroke="#000" textLength="103.50" lengthAdjust="spacingAndGlyphs">Wavelength (nm)</text>
<text transform="translate(11.60 349.80) rotate(-90)" x="-1.11" y="0" font-size="12.90" fill="#000" stroke="#000" textLength="122.03" lengthAdjust="spacingAndGlyphs">Normalized Intensity</text>
<text x="211.89" y="29.80" font-size="12.00" font-weight="bold" fill="#000" stroke="#000" textLength="9.22" lengthAdjust="spacingAndGlyphs">c)</text>
<rect x="250.50" y="15.70" width="171.45" height="153.60" fill="none" stroke="#666" stroke-width="1.35"/>
<path d="M265.60 169.30 v-2.40 M316.00 169.30 v-2.40 M366.40 169.30 v-2.40 M416.80 169.30 v-2.40" stroke="#555" stroke-width="0.90"/>
<path d="M290.80 169.30 v-1.50 M341.20 169.30 v-1.50 M391.60 169.30 v-1.50" stroke="#555" stroke-width="0.90"/>
<path d="M265.60 15.70 v2.40 M316.00 15.70 v2.40 M366.40 15.70 v2.40 M416.80 15.70 v2.40" stroke="#555" stroke-width="0.90"/>
<path d="M290.80 15.70 v1.50 M341.20 15.70 v1.50 M391.60 15.70 v1.50" stroke="#555" stroke-width="0.90"/>
<path d="M250.50 169.00 h2.40 M250.50 141.62 h2.40 M250.50 114.23 h2.40 M250.50 86.85 h2.40 M250.50 59.47 h2.40 M250.50 32.09 h2.40" stroke="#555" stroke-width="0.90"/>
<path d="M250.50 155.31 h1.50 M250.50 127.93 h1.50 M250.50 100.54 h1.50 M250.50 73.16 h1.50 M250.50 45.78 h1.50 M250.50 18.40 h1.50" stroke="#555" stroke-width="0.90"/>
<path d="M421.95 169.00 h-2.40 M421.95 143.42 h-2.40 M421.95 117.83 h-2.40 M421.95 92.25 h-2.40 M421.95 66.67 h-2.40 M421.95 41.08 h-2.40 M421.95 15.50 h-2.40" stroke="#555" stroke-width="0.90"/>
<path d="M421.95 156.21 h-1.50 M421.95 130.63 h-1.50 M421.95 105.04 h-1.50 M421.95 79.46 h-1.50 M421.95 53.88 h-1.50 M421.95 28.29 h-1.50" stroke="#555" stroke-width="0.90"/>
<path d="M272.90 110.60 l2.4 2.3 l-2.4 2.3 l-2.4 -2.3 Z" fill="#0e700e"/>
<path d="M281.70 92.80 l2.4 2.3 l-2.4 2.3 l-2.4 -2.3 Z" fill="#0e700e"/>
<path d="M290.90 81.60 l2.4 2.3 l-2.4 2.3 l-2.4 -2.3 Z" fill="#0e700e"/>
<path d="M299.70 74.10 l2.4 2.3 l-2.4 2.3 l-2.4 -2.3 Z" fill="#0e700e"/>
<path d="M308.70 67.50 l2.4 2.3 l-2.4 2.3 l-2.4 -2.3 Z" fill="#0e700e"/>
<path d="M317.50 63.80 l2.4 2.3 l-2.4 2.3 l-2.4 -2.3 Z" fill="#0e700e"/>
<path d="M326.30 59.70 l2.4 2.3 l-2.4 2.3 l-2.4 -2.3 Z" fill="#0e700e"/>
<path d="M335.10 56.10 l2.4 2.3 l-2.4 2.3 l-2.4 -2.3 Z" fill="#0e700e"/>
<path d="M344.00 53.00 l2.4 2.3 l-2.4 2.3 l-2.4 -2.3 Z" fill="#0e700e"/>
<path d="M353.00 51.50 l2.4 2.3 l-2.4 2.3 l-2.4 -2.3 Z" fill="#0e700e"/>
<path d="M362.00 49.90 l2.4 2.3 l-2.4 2.3 l-2.4 -2.3 Z" fill="#0e700e"/>
<path d="M370.80 49.10 l2.4 2.3 l-2.4 2.3 l-2.4 -2.3 Z" fill="#0e700e"/>
<path d="M379.60 49.50 l2.4 2.3 l-2.4 2.3 l-2.4 -2.3 Z" fill="#0e700e"/>
<path d="M388.70 49.90 l2.4 2.3 l-2.4 2.3 l-2.4 -2.3 Z" fill="#0e700e"/>
<path d="M397.50 52.00 l2.4 2.3 l-2.4 2.3 l-2.4 -2.3 Z" fill="#0e700e"/>
<circle cx="273.00" cy="156.60" r="1.9" fill="#0e700e"/>
<circle cx="281.90" cy="150.80" r="1.9" fill="#0e700e"/>
<circle cx="290.70" cy="144.10" r="1.9" fill="#0e700e"/>
<circle cx="299.80" cy="137.60" r="1.9" fill="#0e700e"/>
<circle cx="308.70" cy="130.90" r="1.9" fill="#0e700e"/>
<circle cx="317.50" cy="124.80" r="1.9" fill="#0e700e"/>
<circle cx="326.30" cy="118.60" r="1.9" fill="#0e700e"/>
<circle cx="335.10" cy="112.90" r="1.9" fill="#0e700e"/>
<circle cx="343.90" cy="106.80" r="1.9" fill="#0e700e"/>
<circle cx="352.90" cy="101.90" r="1.9" fill="#0e700e"/>
<circle cx="362.00" cy="97.10" r="1.9" fill="#0e700e"/>
<circle cx="371.00" cy="92.60" r="1.9" fill="#0e700e"/>
<circle cx="379.70" cy="88.90" r="1.9" fill="#0e700e"/>
<circle cx="388.60" cy="85.30" r="1.9" fill="#0e700e"/>
<circle cx="397.40" cy="82.40" r="1.9" fill="#0e700e"/>
<rect x="280.10" y="121.55" width="3.6" height="3.5" fill="#000"/>
<rect x="283.10" y="110.95" width="3.6" height="3.5" fill="#000"/>
<rect x="292.20" y="85.85" width="3.6" height="3.5" fill="#000"/>
<rect x="301.00" y="68.85" width="3.6" height="3.5" fill="#000"/>
<rect x="309.60" y="58.25" width="3.6" height="3.5" fill="#000"/>
<rect x="318.60" y="50.25" width="3.6" height="3.5" fill="#000"/>
<rect x="327.50" y="45.95" width="3.6" height="3.5" fill="#000"/>
<rect x="336.40" y="41.25" width="3.6" height="3.5" fill="#000"/>
<rect x="345.40" y="38.05" width="3.6" height="3.5" fill="#000"/>
<rect x="354.10" y="37.55" width="3.6" height="3.5" fill="#000"/>
<rect x="363.20" y="38.85" width="3.6" height="3.5" fill="#000"/>
<rect x="372.00" y="41.85" width="3.6" height="3.5" fill="#000"/>
<rect x="381.00" y="51.75" width="3.6" height="3.5" fill="#000"/>
<rect x="389.80" y="62.55" width="3.6" height="3.5" fill="#000"/>
<path d="M281.90 150.10 l2.1 3.6 h-4.2 Z" fill="#000"/>
<path d="M284.90 147.80 l2.1 3.6 h-4.2 Z" fill="#000"/>
<path d="M293.80 141.20 l2.1 3.6 h-4.2 Z" fill="#000"/>
<path d="M302.60 133.20 l2.1 3.6 h-4.2 Z" fill="#000"/>
<path d="M311.60 125.20 l2.1 3.6 h-4.2 Z" fill="#000"/>
<path d="M320.60 117.00 l2.1 3.6 h-4.2 Z" fill="#000"/>
<path d="M329.50 109.30 l2.1 3.6 h-4.2 Z" fill="#000"/>
<path d="M338.20 101.90 l2.1 3.6 h-4.2 Z" fill="#000"/>
<path d="M347.40 95.20 l2.1 3.6 h-4.2 Z" fill="#000"/>
<path d="M356.10 88.80 l2.1 3.6 h-4.2 Z" fill="#000"/>
<path d="M365.20 83.20 l2.1 3.6 h-4.2 Z" fill="#000"/>
<path d="M374.10 78.20 l2.1 3.6 h-4.2 Z" fill="#000"/>
<path d="M382.80 74.10 l2.1 3.6 h-4.2 Z" fill="#000"/>
<path d="M391.50 72.10 l2.1 3.6 h-4.2 Z" fill="#000"/>
<ellipse cx="292.6" cy="84.6" rx="6.2" ry="7.6" fill="none" stroke="#444" stroke-width="0.9"/>
<path d="M286.4 85.6 H266" stroke="#333" stroke-width="0.9"/><path d="M263.2 85.6 l3.4 -1.3 v2.6 Z" fill="#222"/>
<ellipse cx="367.4" cy="88.1" rx="6.6" ry="8.9" fill="none" stroke="#444" stroke-width="0.9"/>
<path d="M372 94.6 H394" stroke="#333" stroke-width="0.9"/><path d="M396.7 94.6 l-3.4 -1.3 v2.6 Z" fill="#222"/>
<path d="M270 27.0 l2.4 2.4 l-2.4 2.4 l-2.4 -2.4 Z" fill="#0e700e"/>
<circle cx="298.1" cy="29.4" r="1.9" fill="#0e700e"/>
<rect x="268.4" y="41.2" width="3.2" height="3.2" fill="#000"/>
<path d="M298.4 40.9 l1.9 3.3 h-3.8 Z" fill="#000"/>
<text x="282.80" y="33.60" font-size="9.40" fill="#000" stroke="#000" textLength="2.40" lengthAdjust="spacingAndGlyphs">/</text>
<text x="282.80" y="47.00" font-size="9.40" fill="#000" stroke="#000" textLength="2.40" lengthAdjust="spacingAndGlyphs">/</text>
<text x="310.28" y="32.40" font-size="8.20" fill="#000" stroke="#000" textLength="19.87" lengthAdjust="spacingAndGlyphs">BSTS</text>
<text x="310.27" y="45.80" font-size="8.20" fill="#000" stroke="#000" textLength="14.88" lengthAdjust="spacingAndGlyphs">BTS</text>
<text x="230.96" y="34.99" font-size="10.60" fill="#000" stroke="#000" textLength="17.69" lengthAdjust="spacingAndGlyphs">375</text>
<text x="230.93" y="62.37" font-size="10.60" fill="#000" stroke="#000" textLength="17.69" lengthAdjust="spacingAndGlyphs">300</text>
<text x="230.96" y="89.75" font-size="10.60" fill="#000" stroke="#000" textLength="17.69" lengthAdjust="spacingAndGlyphs">225</text>
<text x="230.93" y="117.14" font-size="10.60" fill="#000" stroke="#000" textLength="17.69" lengthAdjust="spacingAndGlyphs">150</text>
<text x="236.85" y="144.52" font-size="10.60" fill="#000" stroke="#000" textLength="11.79" lengthAdjust="spacingAndGlyphs">75</text>
<text x="242.72" y="171.90" font-size="10.60" fill="#000" stroke="#000" textLength="5.90" lengthAdjust="spacingAndGlyphs">0</text>
<text x="256.56" y="180.40" font-size="10.60" fill="#000" stroke="#000" textLength="17.69" lengthAdjust="spacingAndGlyphs">100</text>
<text x="307.10" y="180.40" font-size="10.60" fill="#000" stroke="#000" textLength="17.69" lengthAdjust="spacingAndGlyphs">200</text>
<text x="357.56" y="180.40" font-size="10.60" fill="#000" stroke="#000" textLength="17.69" lengthAdjust="spacingAndGlyphs">300</text>
<text x="408.04" y="180.40" font-size="10.60" fill="#000" stroke="#000" textLength="17.69" lengthAdjust="spacingAndGlyphs">400</text>
<text x="423.79" y="172.10" font-size="10.60" fill="#000" stroke="#000" textLength="5.90" lengthAdjust="spacingAndGlyphs">0</text>
<text x="423.39" y="146.52" font-size="10.60" fill="#000" stroke="#000" textLength="11.79" lengthAdjust="spacingAndGlyphs">10</text>
<text x="423.67" y="120.93" font-size="10.60" fill="#000" stroke="#000" textLength="11.79" lengthAdjust="spacingAndGlyphs">20</text>
<text x="423.80" y="95.35" font-size="10.60" fill="#000" stroke="#000" textLength="11.79" lengthAdjust="spacingAndGlyphs">30</text>
<text x="423.96" y="69.77" font-size="10.60" fill="#000" stroke="#000" textLength="11.79" lengthAdjust="spacingAndGlyphs">40</text>
<text x="423.78" y="44.18" font-size="10.60" fill="#000" stroke="#000" textLength="11.79" lengthAdjust="spacingAndGlyphs">50</text>
<text x="423.66" y="18.60" font-size="10.60" fill="#000" stroke="#000" textLength="11.79" lengthAdjust="spacingAndGlyphs">60</text>
<text x="272.06" y="194.90" font-size="12.40" fill="#000" stroke="#000" textLength="116.11" lengthAdjust="spacingAndGlyphs">Pump power (mW)</text>
<text transform="translate(221.60 148.20) rotate(-90)" x="-1.07" y="0" font-size="12.40" fill="#000" stroke="#000" textLength="102.28" lengthAdjust="spacingAndGlyphs">Pulse energy (nJ)</text>
<text transform="translate(451.20 153.90) rotate(-90)" x="-0.03" y="0" font-size="12.60" fill="#000" stroke="#000" textLength="128.67" lengthAdjust="spacingAndGlyphs">Average power (mW)</text>
<text x="211.25" y="213.90" font-size="12.00" font-weight="bold" fill="#000" stroke="#000" textLength="10.29" lengthAdjust="spacingAndGlyphs">d)</text>
<rect x="249.30" y="209.20" width="169.00" height="151.80" fill="none" stroke="#666" stroke-width="1.35"/>
<path d="M271.40 361.00 v-2.40 M324.80 361.00 v-2.40 M378.20 361.00 v-2.40" stroke="#555" stroke-width="0.90"/>
<path d="M298.10 361.00 v-1.50 M351.50 361.00 v-1.50" stroke="#555" stroke-width="0.90"/>
<path d="M271.40 209.20 v2.40 M324.80 209.20 v2.40 M378.20 209.20 v2.40" stroke="#555" stroke-width="0.90"/>
<path d="M298.10 209.20 v1.50 M351.50 209.20 v1.50" stroke="#555" stroke-width="0.90"/>
<path d="M249.30 325.70 h2.40 M249.30 267.40 h2.40 M249.30 209.10 h2.40" stroke="#555" stroke-width="0.90"/>
<path d="M249.30 354.85 h1.50 M249.30 296.55 h1.50 M249.30 238.25 h1.50" stroke="#555" stroke-width="0.90"/>
<path d="M418.30 360.10 h-2.40 M418.30 323.63 h-2.40 M418.30 287.15 h-2.40 M418.30 250.68 h-2.40 M418.30 214.20 h-2.40" stroke="#555" stroke-width="0.90"/>
<path d="M418.30 341.86 h-1.50 M418.30 305.39 h-1.50 M418.30 268.92 h-1.50 M418.30 232.44 h-1.50" stroke="#555" stroke-width="0.90"/>
<path d="M269.00 221.70 l2.4 2.3 l-2.4 2.3 l-2.4 -2.3 Z" fill="#0e700e"/>
<path d="M276.60 258.50 l2.4 2.3 l-2.4 2.3 l-2.4 -2.3 Z" fill="#0e700e"/>
<path d="M284.80 282.30 l2.4 2.3 l-2.4 2.3 l-2.4 -2.3 Z" fill="#0e700e"/>
<path d="M292.30 295.50 l2.4 2.3 l-2.4 2.3 l-2.4 -2.3 Z" fill="#0e700e"/>
<path d="M300.40 305.00 l2.4 2.3 l-2.4 2.3 l-2.4 -2.3 Z" fill="#0e700e"/>
<path d="M308.30 311.30 l2.4 2.3 l-2.4 2.3 l-2.4 -2.3 Z" fill="#0e700e"/>
<path d="M316.00 316.60 l2.4 2.3 l-2.4 2.3 l-2.4 -2.3 Z" fill="#0e700e"/>
<path d="M324.00 320.70 l2.4 2.3 l-2.4 2.3 l-2.4 -2.3 Z" fill="#0e700e"/>
<path d="M331.90 324.70 l2.4 2.3 l-2.4 2.3 l-2.4 -2.3 Z" fill="#0e700e"/>
<path d="M339.50 327.00 l2.4 2.3 l-2.4 2.3 l-2.4 -2.3 Z" fill="#0e700e"/>
<path d="M347.80 330.30 l2.4 2.3 l-2.4 2.3 l-2.4 -2.3 Z" fill="#0e700e"/>
<path d="M355.60 331.90 l2.4 2.3 l-2.4 2.3 l-2.4 -2.3 Z" fill="#0e700e"/>
<path d="M363.30 335.00 l2.4 2.3 l-2.4 2.3 l-2.4 -2.3 Z" fill="#0e700e"/>
<path d="M371.30 336.40 l2.4 2.3 l-2.4 2.3 l-2.4 -2.3 Z" fill="#0e700e"/>
<path d="M379.10 337.20 l2.4 2.3 l-2.4 2.3 l-2.4 -2.3 Z" fill="#0e700e"/>
<path d="M387.20 339.30 l2.4 2.3 l-2.4 2.3 l-2.4 -2.3 Z" fill="#0e700e"/>
<path d="M395.00 339.70 l2.4 2.3 l-2.4 2.3 l-2.4 -2.3 Z" fill="#0e700e"/>
<path d="M402.90 339.30 l2.4 2.3 l-2.4 2.3 l-2.4 -2.3 Z" fill="#0e700e"/>
<circle cx="268.80" cy="346.80" r="1.9" fill="#0e700e"/>
<circle cx="276.80" cy="342.20" r="1.9" fill="#0e700e"/>
<circle cx="284.80" cy="334.80" r="1.9" fill="#0e700e"/>
<circle cx="292.30" cy="327.00" r="1.9" fill="#0e700e"/>
<circle cx="300.40" cy="319.60" r="1.9" fill="#0e700e"/>
<circle cx="308.30" cy="311.70" r="1.9" fill="#0e700e"/>
<circle cx="315.90" cy="305.40" r="1.9" fill="#0e700e"/>
<circle cx="323.60" cy="299.00" r="1.9" fill="#0e700e"/>
<circle cx="331.80" cy="292.90" r="1.9" fill="#0e700e"/>
<circle cx="339.50" cy="286.40" r="1.9" fill="#0e700e"/>
<circle cx="347.40" cy="281.00" r="1.9" fill="#0e700e"/>
<circle cx="355.20" cy="275.50" r="1.9" fill="#0e700e"/>
<circle cx="363.30" cy="269.80" r="1.9" fill="#0e700e"/>
<circle cx="371.30" cy="264.20" r="1.9" fill="#0e700e"/>
<circle cx="379.10" cy="258.10" r="1.9" fill="#0e700e"/>
<circle cx="386.90" cy="252.40" r="1.9" fill="#0e700e"/>
<circle cx="395.00" cy="243.80" r="1.9" fill="#0e700e"/>
<circle cx="402.60" cy="234.60" r="1.9" fill="#0e700e"/>
<rect x="274.80" y="227.15" width="3.6" height="3.5" fill="#000"/>
<rect x="277.90" y="242.45" width="3.6" height="3.5" fill="#000"/>
<rect x="285.40" y="267.25" width="3.6" height="3.5" fill="#000"/>
<rect x="293.20" y="287.45" width="3.6" height="3.5" fill="#000"/>
<rect x="301.10" y="299.55" width="3.6" height="3.5" fill="#000"/>
<rect x="309.10" y="307.45" width="3.6" height="3.5" fill="#000"/>
<rect x="316.80" y="314.75" width="3.6" height="3.5" fill="#000"/>
<rect x="324.50" y="320.15" width="3.6" height="3.5" fill="#000"/>
<rect x="332.40" y="321.85" width="3.6" height="3.5" fill="#000"/>
<rect x="340.50" y="324.85" width="3.6" height="3.5" fill="#000"/>
<rect x="348.20" y="327.95" width="3.6" height="3.5" fill="#000"/>
<rect x="356.40" y="329.35" width="3.6" height="3.5" fill="#000"/>
<rect x="364.40" y="327.35" width="3.6" height="3.5" fill="#000"/>
<rect x="371.80" y="315.65" width="3.6" height="3.5" fill="#000"/>
<path d="M276.60 318.90 l2.1 3.6 h-4.2 Z" fill="#000"/>
<path d="M279.70 325.70 l2.1 3.6 h-4.2 Z" fill="#000"/>
<path d="M287.20 327.70 l2.1 3.6 h-4.2 Z" fill="#000"/>
<path d="M295.00 324.60 l2.1 3.6 h-4.2 Z" fill="#000"/>
<path d="M303.30 317.70 l2.1 3.6 h-4.2 Z" fill="#000"/>
<path d="M311.30 311.00 l2.1 3.6 h-4.2 Z" fill="#000"/>
<path d="M318.80 302.80 l2.1 3.6 h-4.2 Z" fill="#000"/>
<path d="M326.70 296.00 l2.1 3.6 h-4.2 Z" fill="#000"/>
<path d="M334.30 289.20 l2.1 3.6 h-4.2 Z" fill="#000"/>
<path d="M342.30 281.30 l2.1 3.6 h-4.2 Z" fill="#000"/>
<path d="M350.00 272.50 l2.1 3.6 h-4.2 Z" fill="#000"/>
<path d="M358.20 263.30 l2.1 3.6 h-4.2 Z" fill="#000"/>
<path d="M366.20 247.30 l2.1 3.6 h-4.2 Z" fill="#000"/>
<path d="M374.00 231.00 l2.1 3.6 h-4.2 Z" fill="#000"/>
<ellipse cx="360.7" cy="266.7" rx="6.5" ry="8.6" fill="none" stroke="#444" stroke-width="0.9"/>
<path d="M354.2 266.3 H333.6" stroke="#333" stroke-width="0.9"/><path d="M330.8 266.3 l3.4 -1.3 v2.6 Z" fill="#222"/>
<ellipse cx="367.8" cy="334.8" rx="7.2" ry="10.6" fill="none" stroke="#444" stroke-width="0.9"/>
<path d="M375 334.8 H398.6" stroke="#333" stroke-width="0.9"/><path d="M401.4 334.8 l-3.4 -1.3 v2.6 Z" fill="#222"/>
<path d="M302.6 220.3 l2.4 2.4 l-2.4 2.4 l-2.4 -2.4 Z" fill="#0e700e"/>
<circle cx="327.3" cy="222.7" r="1.9" fill="#0e700e"/>
<rect x="301.0" y="234.0" width="3.2" height="3.2" fill="#000"/>
<path d="M327.3 233.5 l1.9 3.3 h-3.8 Z" fill="#000"/>
<text x="313.50" y="226.20" font-size="8.60" fill="#000" stroke="#000" textLength="2.30" lengthAdjust="spacingAndGlyphs">/</text>
<text x="313.50" y="239.40" font-size="8.60" fill="#000" stroke="#000" textLength="2.30" lengthAdjust="spacingAndGlyphs">/</text>
<text x="337.99" y="226.10" font-size="8.20" fill="#000" stroke="#000" textLength="19.56" lengthAdjust="spacingAndGlyphs">BSTS</text>
<text x="337.97" y="239.10" font-size="8.20" fill="#000" stroke="#000" textLength="14.88" lengthAdjust="spacingAndGlyphs">BTS</text>
<text x="229.93" y="212.00" font-size="10.60" fill="#000" stroke="#000" textLength="17.69" lengthAdjust="spacingAndGlyphs">150</text>
<text x="229.93" y="270.30" font-size="10.60" fill="#000" stroke="#000" textLength="17.69" lengthAdjust="spacingAndGlyphs">100</text>
<text x="235.82" y="328.60" font-size="10.60" fill="#000" stroke="#000" textLength="11.79" lengthAdjust="spacingAndGlyphs">50</text>
<text x="262.36" y="371.70" font-size="10.60" fill="#000" stroke="#000" textLength="17.69" lengthAdjust="spacingAndGlyphs">120</text>
<text x="315.90" y="371.70" font-size="10.60" fill="#000" stroke="#000" textLength="17.69" lengthAdjust="spacingAndGlyphs">240</text>
<text x="369.36" y="371.70" font-size="10.60" fill="#000" stroke="#000" textLength="17.69" lengthAdjust="spacingAndGlyphs">360</text>
<text x="420.46" y="363.60" font-size="10.60" fill="#000" stroke="#000" textLength="17.69" lengthAdjust="spacingAndGlyphs">600</text>
<text x="420.19" y="327.13" font-size="10.60" fill="#000" stroke="#000" textLength="23.58" lengthAdjust="spacingAndGlyphs">1200</text>
<text x="420.19" y="290.65" font-size="10.60" fill="#000" stroke="#000" textLength="23.58" lengthAdjust="spacingAndGlyphs">1800</text>
<text x="420.47" y="254.18" font-size="10.60" fill="#000" stroke="#000" textLength="23.58" lengthAdjust="spacingAndGlyphs">2400</text>
<text x="420.60" y="217.70" font-size="10.60" fill="#000" stroke="#000" textLength="23.58" lengthAdjust="spacingAndGlyphs">3000</text>
<text x="276.17" y="386.30" font-size="12.40" fill="#000" stroke="#000" textLength="114.99" lengthAdjust="spacingAndGlyphs">Pump power (mW)</text>
<text transform="translate(221.40 351.20) rotate(-90)" x="-1.12" y="0" font-size="12.20" fill="#000" stroke="#000" textLength="125.37" lengthAdjust="spacingAndGlyphs">Repetition rate (kHz)</text>
<text transform="translate(459.30 339.90) rotate(-90)" x="-1.11" y="0" font-size="12.40" fill="#000" stroke="#000" textLength="113.45" lengthAdjust="spacingAndGlyphs">Pulse duration (ns)</text>
<text x="466.58" y="29.60" font-size="12.00" font-weight="bold" fill="#000" stroke="#000" textLength="9.55" lengthAdjust="spacingAndGlyphs">e)</text>
<path d="M493.80 64.60 L494.00 64.60 L494.20 64.60 L494.40 64.60 L494.60 64.60 L494.80 64.60 L495.00 64.60 L495.20 64.60 L495.40 64.60 L495.60 64.60 L495.80 64.60 L496.00 64.60 L496.20 64.59 L496.40 64.59 L496.60 64.59 L496.80 64.58 L497.00 64.58 L497.20 64.57 L497.40 64.56 L497.60 64.55 L497.80 64.54 L498.00 64.52 L498.20 64.50 L498.40 64.48 L498.60 64.45 L498.80 64.42 L499.00 64.38 L499.20 64.34 L499.40 64.29 L499.60 64.24 L499.80 64.18 L500.00 64.11 L500.20 64.04 L500.40 63.96 L500.60 63.87 L500.80 63.77 L501.00 63.67 L501.20 63.55 L501.40 63.42 L501.60 63.29 L501.80 63.14 L502.00 62.98 L502.20 62.81 L502.40 62.62 L502.60 62.42 L502.80 62.20 L503.00 61.97 L503.20 61.71 L503.40 61.43 L503.60 61.13 L503.80 60.79 L504.00 60.42 L504.20 60.02 L504.40 59.57 L504.60 59.06 L504.80 58.50 L505.00 57.87 L505.20 57.16 L505.40 56.35 L505.60 55.42 L505.80 54.36 L506.00 53.14 L506.20 51.73 L506.40 50.09 L506.60 48.19 L506.80 45.99 L507.00 43.43 L507.20 40.51 L507.40 37.20 L507.60 33.55 L507.80 29.68 L508.00 25.81 L508.20 22.30 L508.40 19.59 L508.60 18.09 L508.80 18.09 L509.00 19.59 L509.20 22.30 L509.40 25.81 L509.60 29.68 L509.80 33.55 L510.00 37.20 L510.20 40.51 L510.40 43.43 L510.60 45.99 L510.80 48.19 L511.00 50.09 L511.20 51.73 L511.40 53.14 L511.60 54.36 L511.80 55.42 L512.00 56.35 L512.20 57.16 L512.40 57.87 L512.60 58.50 L512.80 59.06 L513.00 59.57 L513.20 60.02 L513.40 60.42 L513.60 60.79 L513.80 61.13 L514.00 61.43 L514.20 61.71 L514.40 61.97 L514.60 62.20 L514.80 62.42 L515.00 62.62 L515.20 62.81 L515.40 62.98 L515.60 63.14 L515.80 63.29 L516.00 63.42 L516.20 63.55 L516.40 63.67 L516.60 63.77 L516.80 63.87 L517.00 63.96 L517.20 64.04 L517.40 64.11 L517.60 64.18 L517.80 64.24 L518.00 64.29 L518.20 64.34 L518.40 64.38 L518.60 64.42 L518.80 64.45 L519.00 64.48 L519.20 64.50 L519.40 64.52 L519.60 64.54 L519.80 64.55 L520.00 64.56 L520.20 64.57 L520.40 64.58 L520.60 64.58 L520.80 64.59 L521.00 64.59 L521.20 64.59 L521.40 64.60 L521.60 64.60 L521.80 64.60 L522.00 64.60 L522.20 64.60 L522.40 64.60 L522.60 64.60 L522.80 64.60 L523.00 64.60 L523.20 64.60 L523.40 64.60 L523.60 64.60 L523.80 64.60 L524.00 64.60 L524.20 64.60 L524.40 64.60 L524.60 64.60 L524.80 64.60 L525.00 64.60 L525.20 64.60 L525.40 64.60 L525.60 64.60 L525.80 64.60 L526.00 64.60 L526.20 64.60 L526.40 64.60 L526.60 64.60 L526.80 64.60 L527.00 64.60 L527.20 64.60 L527.40 64.60 L527.60 64.60 L527.80 64.60 L528.00 64.60 L528.20 64.60 L528.40 64.60 L528.60 64.60 L528.80 64.60 L529.00 64.60 L529.20 64.60 L529.40 64.60 L529.60 64.60 L529.80 64.60 L530.00 64.60 L530.20 64.60 L530.40 64.60 L530.60 64.60 L530.80 64.59 L531.00 64.59 L531.20 64.59 L531.40 64.58 L531.60 64.58 L531.80 64.57 L532.00 64.57 L532.20 64.56 L532.40 64.54 L532.60 64.53 L532.80 64.51 L533.00 64.49 L533.20 64.46 L533.40 64.44 L533.60 64.40 L533.80 64.36 L534.00 64.32 L534.20 64.27 L534.40 64.21 L534.60 64.15 L534.80 64.08 L535.00 64.00 L535.20 63.92 L535.40 63.82 L535.60 63.72 L535.80 63.61 L536.00 63.49 L536.20 63.36 L536.40 63.21 L536.60 63.06 L536.80 62.90 L537.00 62.72 L537.20 62.52 L537.40 62.31 L537.60 62.09 L537.80 61.84 L538.00 61.57 L538.20 61.28 L538.40 60.96 L538.60 60.61 L538.80 60.23 L539.00 59.80 L539.20 59.32 L539.40 58.79 L539.60 58.20 L539.80 57.53 L540.00 56.77 L540.20 55.90 L540.40 54.91 L540.60 53.77 L540.80 52.46 L541.00 50.94 L541.20 49.18 L541.40 47.13 L541.60 44.76 L541.80 42.02 L542.00 38.90 L542.20 35.41 L542.40 31.63 L542.60 27.73 L542.80 23.99 L543.00 20.82 L543.20 18.66 L543.40 17.90 L543.60 18.66 L543.80 20.82 L544.00 23.99 L544.20 27.73 L544.40 31.63 L544.60 35.41 L544.80 38.90 L545.00 42.02 L545.20 44.76 L545.40 47.13 L545.60 49.18 L545.80 50.94 L546.00 52.46 L546.20 53.77 L546.40 54.91 L546.60 55.90 L546.80 56.77 L547.00 57.53 L547.20 58.20 L547.40 58.79 L547.60 59.32 L547.80 59.80 L548.00 60.23 L548.20 60.61 L548.40 60.96 L548.60 61.28 L548.80 61.57 L549.00 61.84 L549.20 62.09 L549.40 62.31 L549.60 62.52 L549.80 62.72 L550.00 62.90 L550.20 63.06 L550.40 63.21 L550.60 63.36 L550.80 63.49 L551.00 63.61 L551.20 63.72 L551.40 63.82 L551.60 63.92 L551.80 64.00 L552.00 64.08 L552.20 64.15 L552.40 64.21 L552.60 64.27 L552.80 64.32 L553.00 64.36 L553.20 64.40 L553.40 64.44 L553.60 64.46 L553.80 64.49 L554.00 64.51 L554.20 64.53 L554.40 64.54 L554.60 64.56 L554.80 64.57 L555.00 64.57 L555.20 64.58 L555.40 64.58 L555.60 64.59 L555.80 64.59 L556.00 64.59 L556.20 64.60 L556.40 64.60 L556.60 64.60 L556.80 64.60 L557.00 64.60 L557.20 64.60 L557.40 64.60 L557.60 64.60 L557.80 64.60 L558.00 64.60 L558.20 64.60 L558.40 64.60 L558.60 64.60 L558.80 64.60 L559.00 64.60 L559.20 64.60 L559.40 64.60 L559.60 64.60 L559.80 64.60 L560.00 64.60 L560.20 64.60 L560.40 64.60 L560.60 64.60 L560.80 64.60 L561.00 64.60 L561.20 64.60 L561.40 64.60 L561.60 64.60 L561.80 64.60 L562.00 64.60 L562.20 64.60 L562.40 64.60 L562.60 64.60 L562.80 64.60 L563.00 64.60 L563.20 64.60 L563.40 64.60 L563.60 64.60 L563.80 64.60 L564.00 64.60 L564.20 64.60 L564.40 64.60 L564.60 64.60 L564.80 64.60 L565.00 64.60 L565.20 64.60 L565.40 64.60 L565.60 64.59 L565.80 64.59 L566.00 64.59 L566.20 64.58 L566.40 64.58 L566.60 64.57 L566.80 64.56 L567.00 64.55 L567.20 64.54 L567.40 64.52 L567.60 64.50 L567.80 64.48 L568.00 64.45 L568.20 64.42 L568.40 64.38 L568.60 64.34 L568.80 64.29 L569.00 64.24 L569.20 64.18 L569.40 64.11 L569.60 64.04 L569.80 63.96 L570.00 63.87 L570.20 63.77 L570.40 63.67 L570.60 63.55 L570.80 63.42 L571.00 63.29 L571.20 63.14 L571.40 62.98 L571.60 62.81 L571.80 62.62 L572.00 62.42 L572.20 62.20 L572.40 61.97 L572.60 61.71 L572.80 61.43 L573.00 61.13 L573.20 60.79 L573.40 60.42 L573.60 60.02 L573.80 59.57 L574.00 59.06 L574.20 58.50 L574.40 57.87 L574.60 57.16 L574.80 56.35 L575.00 55.42 L575.20 54.36 L575.40 53.14 L575.60 51.73 L575.80 50.09 L576.00 48.19 L576.20 45.99 L576.40 43.43 L576.60 40.51 L576.80 37.20 L577.00 33.55 L577.20 29.68 L577.40 25.81 L577.60 22.30 L577.80 19.59 L578.00 18.09 L578.20 18.09 L578.40 19.59 L578.60 22.30 L578.80 25.81 L579.00 29.68 L579.20 33.55 L579.40 37.20 L579.60 40.51 L579.80 43.43 L580.00 45.99 L580.20 48.19 L580.40 50.09 L580.60 51.73 L580.80 53.14 L581.00 54.36 L581.20 55.42 L581.40 56.35 L581.60 57.16 L581.80 57.87 L582.00 58.50 L582.20 59.06 L582.40 59.57 L582.60 60.02 L582.80 60.42 L583.00 60.79 L583.20 61.13 L583.40 61.43 L583.60 61.71 L583.80 61.97 L584.00 62.20 L584.20 62.42 L584.40 62.62 L584.60 62.81 L584.80 62.98 L585.00 63.14 L585.20 63.29 L585.40 63.42 L585.60 63.55 L585.80 63.67 L586.00 63.77 L586.20 63.87 L586.40 63.96 L586.60 64.04 L586.80 64.11 L587.00 64.18 L587.20 64.24 L587.40 64.29 L587.60 64.34 L587.80 64.38 L588.00 64.42 L588.20 64.45 L588.40 64.48 L588.60 64.50 L588.80 64.52 L589.00 64.54 L589.20 64.55 L589.40 64.56 L589.60 64.57 L589.80 64.58 L590.00 64.58 L590.20 64.59 L590.40 64.59 L590.60 64.59 L590.80 64.60 L591.00 64.60 L591.20 64.60 L591.40 64.60 L591.60 64.60 L591.80 64.60 L592.00 64.60 L592.20 64.60 L592.40 64.60 L592.60 64.60 L592.80 64.60 L593.00 64.60 L593.20 64.60 L593.40 64.60 L593.60 64.60 L593.80 64.60 L594.00 64.60 L594.20 64.60 L594.40 64.60 L594.60 64.60 L594.80 64.60 L595.00 64.60 L595.20 64.60 L595.40 64.60 L595.60 64.60 L595.80 64.60 L596.00 64.60 L596.20 64.60 L596.40 64.60 L596.60 64.60 L596.80 64.60 L597.00 64.60 L597.20 64.60 L597.40 64.60 L597.60 64.60 L597.80 64.60 L598.00 64.60 L598.20 64.60 L598.40 64.60 L598.60 64.60 L598.80 64.60 L599.00 64.60 L599.20 64.60 L599.40 64.60 L599.60 64.60 L599.80 64.60 L600.00 64.60 L600.20 64.59 L600.40 64.59 L600.60 64.59 L600.80 64.58 L601.00 64.58 L601.20 64.57 L601.40 64.57 L601.60 64.56 L601.80 64.54 L602.00 64.53 L602.20 64.51 L602.40 64.49 L602.60 64.46 L602.80 64.44 L603.00 64.40 L603.20 64.36 L603.40 64.32 L603.60 64.27 L603.80 64.21 L604.00 64.15 L604.20 64.08 L604.40 64.00 L604.60 63.92 L604.80 63.82 L605.00 63.72 L605.20 63.61 L605.40 63.49 L605.60 63.36 L605.80 63.21 L606.00 63.06 L606.20 62.90 L606.40 62.72 L606.60 62.52 L606.80 62.31 L607.00 62.09 L607.20 61.84 L607.40 61.57 L607.60 61.28 L607.80 60.96 L608.00 60.61 L608.20 60.23 L608.40 59.80 L608.60 59.32 L608.80 58.79 L609.00 58.20 L609.20 57.53 L609.40 56.77 L609.60 55.90 L609.80 54.91 L610.00 53.77 L610.20 52.46 L610.40 50.94 L610.60 49.18 L610.80 47.13 L611.00 44.76 L611.20 42.02 L611.40 38.90 L611.60 35.41 L611.80 31.63 L612.00 27.73 L612.20 23.99 L612.40 20.82 L612.60 18.66 L612.80 17.90 L613.00 18.66 L613.20 20.82 L613.40 23.99 L613.60 27.73 L613.80 31.63 L614.00 35.41 L614.20 38.90 L614.40 42.02 L614.60 44.76 L614.80 47.13 L615.00 49.18 L615.20 50.94 L615.40 52.46 L615.60 53.77 L615.80 54.91 L616.00 55.90 L616.20 56.77 L616.40 57.53 L616.60 58.20 L616.80 58.79 L617.00 59.32 L617.20 59.80 L617.40 60.23 L617.60 60.61 L617.80 60.96 L618.00 61.28 L618.20 61.57 L618.40 61.84 L618.60 62.09 L618.80 62.31 L619.00 62.52 L619.20 62.72 L619.40 62.90 L619.60 63.06 L619.80 63.21 L620.00 63.36 L620.20 63.49 L620.40 63.61 L620.60 63.72 L620.80 63.82 L621.00 63.92 L621.20 64.00 L621.40 64.08 L621.60 64.15 L621.80 64.21 L622.00 64.27 L622.20 64.32 L622.40 64.36 L622.60 64.40 L622.80 64.44 L623.00 64.46 L623.20 64.49 L623.40 64.51 L623.60 64.53 L623.80 64.54 L624.00 64.56 L624.20 64.57 L624.40 64.57 L624.60 64.58 L624.80 64.58 L625.00 64.59 L625.20 64.59 L625.40 64.59 L625.60 64.60 L625.80 64.60 L626.00 64.60 L626.20 64.60 L626.40 64.60 L626.60 64.60 L626.80 64.60 L627.00 64.60 L627.20 64.60 L627.40 64.60 L627.60 64.60 L627.80 64.60 L628.00 64.60 L628.20 64.60 L628.40 64.60 L628.60 64.60 L628.80 64.60 L629.00 64.60 L629.20 64.60 L629.40 64.60 L629.60 64.60 L629.80 64.60 L630.00 64.60 L630.20 64.60 L630.40 64.60 L630.60 64.60 L630.80 64.60 L631.00 64.60 L631.20 64.60 L631.40 64.60 L631.60 64.60 L631.80 64.60 L632.00 64.60 L632.20 64.60 L632.40 64.60 L632.60 64.60 L632.80 64.60 L633.00 64.60 L633.20 64.60 L633.40 64.60 L633.60 64.60 L633.80 64.60 L634.00 64.60 L634.20 64.60 L634.40 64.60 L634.60 64.60 L634.80 64.60 L635.00 64.59 L635.20 64.59 L635.40 64.59 L635.60 64.58 L635.80 64.58 L636.00 64.57 L636.20 64.56 L636.40 64.55 L636.60 64.54 L636.80 64.52 L637.00 64.50 L637.20 64.48 L637.40 64.45 L637.60 64.42 L637.80 64.38 L638.00 64.34 L638.20 64.29 L638.40 64.24 L638.60 64.18 L638.80 64.11 L639.00 64.04 L639.20 63.96 L639.40 63.87 L639.60 63.77 L639.80 63.67 L640.00 63.55 L640.20 63.42 L640.40 63.29 L640.60 63.14 L640.80 62.98 L641.00 62.81 L641.20 62.62 L641.40 62.42 L641.60 62.20 L641.80 61.97 L642.00 61.71 L642.20 61.43 L642.40 61.13 L642.60 60.79 L642.80 60.42 L643.00 60.02 L643.20 59.57 L643.40 59.06 L643.60 58.50 L643.80 57.87 L644.00 57.16 L644.20 56.35 L644.40 55.42 L644.60 54.36 L644.80 53.14 L645.00 51.73 L645.20 50.09 L645.40 48.19 L645.60 45.99 L645.80 43.43 L646.00 40.51 L646.20 37.20 L646.40 33.55 L646.60 29.68 L646.80 25.81 L647.00 22.30 L647.20 19.59 L647.40 18.09 L647.60 18.09 L647.80 19.59 L648.00 22.30 L648.20 25.81 L648.40 29.68 L648.60 33.55 L648.80 37.20 L649.00 40.51 L649.20 43.43 L649.40 45.99 L649.60 48.19 L649.80 50.09 L650.00 51.73 L650.20 53.14 L650.40 54.36 L650.60 55.42 L650.80 56.35 L651.00 57.16 L651.20 57.87 L651.40 58.50 L651.60 59.06 L651.80 59.57 L652.00 60.02 L652.20 60.42 L652.40 60.79 L652.60 61.13 L652.80 61.43 L653.00 61.71 L653.20 61.97 L653.40 62.20 L653.60 62.42 L653.80 62.62 L654.00 62.81 L654.20 62.98 L654.40 63.14 L654.60 63.29 L654.80 63.42 L655.00 63.55 L655.20 63.67 L655.40 63.77 L655.60 63.87 L655.80 63.96 L656.00 64.04 L656.20 64.11 L656.40 64.18 L656.60 64.24 L656.80 64.29 L657.00 64.34 L657.20 64.38 L657.40 64.42 L657.60 64.45 L657.80 64.48 L658.00 64.50 L658.20 64.52 L658.40 64.54 L658.60 64.55 L658.80 64.56 L659.00 64.57 L659.20 64.58 L659.40 64.58 L659.60 64.59 L659.80 64.59 L660.00 64.59 L660.20 64.60 L660.40 64.60 L660.60 64.60 L660.80 64.60 L661.00 64.60 L661.20 64.60 L661.40 64.60 L661.60 64.60 L661.80 64.60 L662.00 64.60 L662.20 64.60 L662.40 64.60 L662.60 64.60" fill="none" stroke="#2b2b2b" stroke-width="1.2" stroke-linejoin="round"/>
<path d="M493.80 116.30 L494.00 116.20 L494.20 116.07 L494.40 115.89 L494.60 115.66 L494.80 115.37 L495.00 115.02 L495.20 114.60 L495.40 114.11 L495.60 113.54 L495.80 112.88 L496.00 112.13 L496.20 111.26 L496.40 110.27 L496.60 109.12 L496.80 107.79 L497.00 106.23 L497.20 104.39 L497.40 102.20 L497.60 99.58 L497.80 96.44 L498.00 92.69 L498.20 88.31 L498.40 83.38 L498.60 78.19 L498.80 73.39 L499.00 69.89 L499.20 68.60 L499.40 69.89 L499.60 73.39 L499.80 78.19 L500.00 83.38 L500.20 88.31 L500.40 92.69 L500.60 96.44 L500.80 99.58 L501.00 102.20 L501.20 104.39 L501.40 106.23 L501.60 107.79 L501.80 109.12 L502.00 110.27 L502.20 111.26 L502.40 112.13 L502.60 112.88 L502.80 113.54 L503.00 114.11 L503.20 114.60 L503.40 115.02 L503.60 115.37 L503.80 115.66 L504.00 115.89 L504.20 116.07 L504.40 116.20 L504.60 116.30 L504.80 116.38 L505.00 116.42 L505.20 116.46 L505.40 116.48 L505.60 116.49 L505.80 116.49 L506.00 116.50 L506.20 116.50 L506.40 116.50 L506.60 116.50 L506.80 116.50 L507.00 116.50 L507.20 116.50 L507.40 116.50 L507.60 116.50 L507.80 116.50 L508.00 116.50 L508.20 116.50 L508.40 116.50 L508.60 116.50 L508.80 116.50 L509.00 116.50 L509.20 116.50 L509.40 116.50 L509.60 116.50 L509.80 116.50 L510.00 116.50 L510.20 116.50 L510.40 116.50 L510.60 116.50 L510.80 116.50 L511.00 116.50 L511.20 116.50 L511.40 116.50 L511.60 116.50 L511.80 116.50 L512.00 116.50 L512.20 116.50 L512.40 116.49 L512.60 116.48 L512.80 116.47 L513.00 116.45 L513.20 116.41 L513.40 116.36 L513.60 116.28 L513.80 116.17 L514.00 116.02 L514.20 115.82 L514.40 115.58 L514.60 115.27 L514.80 114.90 L515.00 114.46 L515.20 113.95 L515.40 113.35 L515.60 112.67 L515.80 111.88 L516.00 110.98 L516.20 109.94 L516.40 108.74 L516.60 107.35 L516.80 105.71 L517.00 103.77 L517.20 101.46 L517.40 98.69 L517.60 95.38 L517.80 91.44 L518.00 86.88 L518.20 81.83 L518.40 76.68 L518.60 72.16 L518.80 69.24 L519.00 68.72 L519.20 70.75 L519.40 74.74 L519.60 79.74 L519.80 84.90 L520.00 89.69 L520.20 93.88 L520.40 97.44 L520.60 100.41 L520.80 102.90 L521.00 104.98 L521.20 106.73 L521.40 108.21 L521.60 109.48 L521.80 110.58 L522.00 111.54 L522.20 112.37 L522.40 113.09 L522.60 113.72 L522.80 114.27 L523.00 114.74 L523.20 115.13 L523.40 115.46 L523.60 115.73 L523.80 115.95 L524.00 116.11 L524.20 116.24 L524.40 116.33 L524.60 116.39 L524.80 116.43 L525.00 116.46 L525.20 116.48 L525.40 116.49 L525.60 116.49 L525.80 116.50 L526.00 116.50 L526.20 116.50 L526.40 116.50 L526.60 116.50 L526.80 116.50 L527.00 116.50 L527.20 116.50 L527.40 116.50 L527.60 116.50 L527.80 116.50 L528.00 116.50 L528.20 116.50 L528.40 116.50 L528.60 116.50 L528.80 116.50 L529.00 116.50 L529.20 116.50 L529.40 116.50 L529.60 116.50 L529.80 116.50 L530.00 116.50 L530.20 116.50 L530.40 116.50 L530.60 116.50 L530.80 116.50 L531.00 116.50 L531.20 116.50 L531.40 116.50 L531.60 116.50 L531.80 116.50 L532.00 116.50 L532.20 116.49 L532.40 116.48 L532.60 116.46 L532.80 116.44 L533.00 116.40 L533.20 116.34 L533.40 116.25 L533.60 116.13 L533.80 115.96 L534.00 115.75 L534.20 115.49 L534.40 115.17 L534.60 114.78 L534.80 114.32 L535.00 113.78 L535.20 113.16 L535.40 112.44 L535.60 111.62 L535.80 110.68 L536.00 109.60 L536.20 108.35 L536.40 106.89 L536.60 105.16 L536.80 103.12 L537.00 100.68 L537.20 97.76 L537.40 94.27 L537.60 90.14 L537.80 85.40 L538.00 80.26 L538.20 75.21 L538.40 71.07 L538.60 68.81 L538.80 69.07 L539.00 71.78 L539.20 76.18 L539.40 81.31 L539.60 86.39 L539.80 91.02 L540.00 95.01 L540.20 98.39 L540.40 101.21 L540.60 103.56 L540.80 105.53 L541.00 107.20 L541.20 108.61 L541.40 109.83 L541.60 110.88 L541.80 111.80 L542.00 112.60 L542.20 113.29 L542.40 113.89 L542.60 114.42 L542.80 114.86 L543.00 115.24 L543.20 115.55 L543.40 115.80 L543.60 116.00 L543.80 116.15 L544.00 116.27 L544.20 116.35 L544.40 116.41 L544.60 116.44 L544.80 116.47 L545.00 116.48 L545.20 116.49 L545.40 116.50 L545.60 116.50 L545.80 116.50 L546.00 116.50 L546.20 116.50 L546.40 116.50 L546.60 116.50 L546.80 116.50 L547.00 116.50 L547.20 116.50 L547.40 116.50 L547.60 116.50 L547.80 116.50 L548.00 116.50 L548.20 116.50 L548.40 116.50 L548.60 116.50 L548.80 116.50 L549.00 116.50 L549.20 116.50 L549.40 116.50 L549.60 116.50 L549.80 116.50 L550.00 116.50 L550.20 116.50 L550.40 116.50 L550.60 116.50 L550.80 116.50 L551.00 116.50 L551.20 116.50 L551.40 116.50 L551.60 116.50 L551.80 116.49 L552.00 116.49 L552.20 116.48 L552.40 116.46 L552.60 116.43 L552.80 116.38 L553.00 116.31 L553.20 116.21 L553.40 116.08 L553.60 115.91 L553.80 115.68 L554.00 115.40 L554.20 115.06 L554.40 114.65 L554.60 114.17 L554.80 113.60 L555.00 112.95 L555.20 112.21 L555.40 111.36 L555.60 110.38 L555.80 109.25 L556.00 107.93 L556.20 106.40 L556.40 104.59 L556.60 102.44 L556.80 99.86 L557.00 96.78 L557.20 93.10 L557.40 88.78 L557.60 83.89 L557.80 78.71 L558.00 73.83 L558.20 70.16 L558.40 68.61 L558.60 69.65 L558.80 72.97 L559.00 77.68 L559.20 82.86 L559.40 87.84 L559.60 92.28 L559.80 96.09 L560.00 99.29 L560.20 101.96 L560.40 104.19 L560.60 106.06 L560.80 107.65 L561.00 109.00 L561.20 110.16 L561.40 111.17 L561.60 112.05 L561.80 112.81 L562.00 113.48 L562.20 114.06 L562.40 114.56 L562.60 114.98 L562.80 115.34 L563.00 115.63 L563.20 115.87 L563.40 116.05 L563.60 116.19 L563.80 116.30 L564.00 116.37 L564.20 116.42 L564.40 116.45 L564.60 116.47 L564.80 116.49 L565.00 116.49 L565.20 116.50 L565.40 116.50 L565.60 116.50 L565.80 116.50 L566.00 116.50 L566.20 116.50 L566.40 116.50 L566.60 116.50 L566.80 116.50 L567.00 116.50 L567.20 116.50 L567.40 116.50 L567.60 116.50 L567.80 116.50 L568.00 116.50 L568.20 116.50 L568.40 116.50 L568.60 116.50 L568.80 116.50 L569.00 116.50 L569.20 116.50 L569.40 116.50 L569.60 116.50 L569.80 116.50 L570.00 116.50 L570.20 116.50 L570.40 116.50 L570.60 116.50 L570.80 116.50 L571.00 116.50 L571.20 116.50 L571.40 116.50 L571.60 116.49 L571.80 116.48 L572.00 116.47 L572.20 116.45 L572.40 116.42 L572.60 116.36 L572.80 116.29 L573.00 116.18 L573.20 116.03 L573.40 115.84 L573.60 115.60 L573.80 115.30 L574.00 114.94 L574.20 114.51 L574.40 114.01 L574.60 113.42 L574.80 112.74 L575.00 111.97 L575.20 111.08 L575.40 110.05 L575.60 108.87 L575.80 107.50 L576.00 105.89 L576.20 103.98 L576.40 101.71 L576.60 98.99 L576.80 95.74 L577.00 91.87 L577.20 87.36 L577.40 82.35 L577.60 77.18 L577.80 72.56 L578.00 69.44 L578.20 68.65 L578.40 70.44 L578.60 74.28 L578.80 79.23 L579.00 84.40 L579.20 89.24 L579.40 93.49 L579.60 97.11 L579.80 100.14 L580.00 102.67 L580.20 104.78 L580.40 106.56 L580.60 108.07 L580.80 109.37 L581.00 110.48 L581.20 111.45 L581.40 112.29 L581.60 113.02 L581.80 113.66 L582.00 114.22 L582.20 114.69 L582.40 115.10 L582.60 115.43 L582.80 115.71 L583.00 115.93 L583.20 116.10 L583.40 116.23 L583.60 116.32 L583.80 116.39 L584.00 116.43 L584.20 116.46 L584.40 116.48 L584.60 116.49 L584.80 116.49 L585.00 116.50 L585.20 116.50 L585.40 116.50 L585.60 116.50 L585.80 116.50 L586.00 116.50 L586.20 116.50 L586.40 116.50 L586.60 116.50 L586.80 116.50 L587.00 116.50 L587.20 116.50 L587.40 116.50 L587.60 116.50 L587.80 116.50 L588.00 116.50 L588.20 116.50 L588.40 116.50 L588.60 116.50 L588.80 116.50 L589.00 116.50 L589.20 116.50 L589.40 116.50 L589.60 116.50 L589.80 116.50 L590.00 116.50 L590.20 116.50 L590.40 116.50 L590.60 116.50 L590.80 116.50 L591.00 116.50 L591.20 116.50 L591.40 116.49 L591.60 116.48 L591.80 116.47 L592.00 116.44 L592.20 116.40 L592.40 116.34 L592.60 116.26 L592.80 116.14 L593.00 115.98 L593.20 115.78 L593.40 115.52 L593.60 115.20 L593.80 114.82 L594.00 114.37 L594.20 113.84 L594.40 113.23 L594.60 112.52 L594.80 111.71 L595.00 110.78 L595.20 109.72 L595.40 108.48 L595.60 107.04 L595.80 105.35 L596.00 103.34 L596.20 100.95 L596.40 98.08 L596.60 94.64 L596.80 90.58 L597.00 85.90 L597.20 80.79 L597.40 75.69 L597.60 71.42 L597.80 68.93 L598.00 68.93 L598.20 71.42 L598.40 75.69 L598.60 80.79 L598.80 85.90 L599.00 90.58 L599.20 94.64 L599.40 98.08 L599.60 100.95 L599.80 103.34 L600.00 105.35 L600.20 107.04 L600.40 108.48 L600.60 109.72 L600.80 110.78 L601.00 111.71 L601.20 112.52 L601.40 113.23 L601.60 113.84 L601.80 114.37 L602.00 114.82 L602.20 115.20 L602.40 115.52 L602.60 115.78 L602.80 115.98 L603.00 116.14 L603.20 116.26 L603.40 116.34 L603.60 116.40 L603.80 116.44 L604.00 116.47 L604.20 116.48 L604.40 116.49 L604.60 116.50 L604.80 116.50 L605.00 116.50 L605.20 116.50 L605.40 116.50 L605.60 116.50 L605.80 116.50 L606.00 116.50 L606.20 116.50 L606.40 116.50 L606.60 116.50 L606.80 116.50 L607.00 116.50 L607.20 116.50 L607.40 116.50 L607.60 116.50 L607.80 116.50 L608.00 116.50 L608.20 116.50 L608.40 116.50 L608.60 116.50 L608.80 116.50 L609.00 116.50 L609.20 116.50 L609.40 116.50 L609.60 116.50 L609.80 116.50 L610.00 116.50 L610.20 116.50 L610.40 116.50 L610.60 116.50 L610.80 116.50 L611.00 116.49 L611.20 116.49 L611.40 116.48 L611.60 116.46 L611.80 116.43 L612.00 116.39 L612.20 116.32 L612.40 116.23 L612.60 116.10 L612.80 115.93 L613.00 115.71 L613.20 115.43 L613.40 115.10 L613.60 114.69 L613.80 114.22 L614.00 113.66 L614.20 113.02 L614.40 112.29 L614.60 111.45 L614.80 110.48 L615.00 109.37 L615.20 108.07 L615.40 106.56 L615.60 104.78 L615.80 102.67 L616.00 100.14 L616.20 97.11 L616.40 93.49 L616.60 89.24 L616.80 84.40 L617.00 79.23 L617.20 74.28 L617.40 70.44 L617.60 68.65 L617.80 69.44 L618.00 72.56 L618.20 77.18 L618.40 82.35 L618.60 87.36 L618.80 91.87 L619.00 95.74 L619.20 98.99 L619.40 101.71 L619.60 103.98 L619.80 105.89 L620.00 107.50 L620.20 108.87 L620.40 110.05 L620.60 111.08 L620.80 111.97 L621.00 112.74 L621.20 113.42 L621.40 114.01 L621.60 114.51 L621.80 114.94 L622.00 115.30 L622.20 115.60 L622.40 115.84 L622.60 116.03 L622.80 116.18 L623.00 116.29 L623.20 116.36 L623.40 116.42 L623.60 116.45 L623.80 116.47 L624.00 116.48 L624.20 116.49 L624.40 116.50 L624.60 116.50 L624.80 116.50 L625.00 116.50 L625.20 116.50 L625.40 116.50 L625.60 116.50 L625.80 116.50 L626.00 116.50 L626.20 116.50 L626.40 116.50 L626.60 116.50 L626.80 116.50 L627.00 116.50 L627.20 116.50 L627.40 116.50 L627.60 116.50 L627.80 116.50 L628.00 116.50 L628.20 116.50 L628.40 116.50 L628.60 116.50 L628.80 116.50 L629.00 116.50 L629.20 116.50 L629.40 116.50 L629.60 116.50 L629.80 116.50 L630.00 116.50 L630.20 116.50 L630.40 116.50 L630.60 116.50 L630.80 116.49 L631.00 116.49 L631.20 116.47 L631.40 116.45 L631.60 116.42 L631.80 116.37 L632.00 116.30 L632.20 116.19 L632.40 116.05 L632.60 115.87 L632.80 115.63 L633.00 115.34 L633.20 114.98 L633.40 114.56 L633.60 114.06 L633.80 113.48 L634.00 112.81 L634.20 112.05 L634.40 111.17 L634.60 110.16 L634.80 109.00 L635.00 107.65 L635.20 106.06 L635.40 104.19 L635.60 101.96 L635.80 99.29 L636.00 96.09 L636.20 92.28 L636.40 87.84 L636.60 82.86 L636.80 77.68 L637.00 72.97 L637.20 69.65 L637.40 68.61 L637.60 70.16 L637.80 73.83 L638.00 78.71 L638.20 83.89 L638.40 88.78 L638.60 93.10 L638.80 96.78 L639.00 99.86 L639.20 102.44 L639.40 104.59 L639.60 106.40 L639.80 107.93 L640.00 109.25 L640.20 110.38 L640.40 111.36 L640.60 112.21 L640.80 112.95 L641.00 113.60 L641.20 114.17 L641.40 114.65 L641.60 115.06 L641.80 115.40 L642.00 115.68 L642.20 115.91 L642.40 116.08 L642.60 116.21 L642.80 116.31 L643.00 116.38 L643.20 116.43 L643.40 116.46 L643.60 116.48 L643.80 116.49 L644.00 116.49 L644.20 116.50 L644.40 116.50 L644.60 116.50 L644.80 116.50 L645.00 116.50 L645.20 116.50 L645.40 116.50 L645.60 116.50 L645.80 116.50 L646.00 116.50 L646.20 116.50 L646.40 116.50 L646.60 116.50 L646.80 116.50 L647.00 116.50 L647.20 116.50 L647.40 116.50 L647.60 116.50 L647.80 116.50 L648.00 116.50 L648.20 116.50 L648.40 116.50 L648.60 116.50 L648.80 116.50 L649.00 116.50 L649.20 116.50 L649.40 116.50 L649.60 116.50 L649.80 116.50 L650.00 116.50 L650.20 116.50 L650.40 116.50 L650.60 116.49 L650.80 116.48 L651.00 116.47 L651.20 116.44 L651.40 116.41 L651.60 116.35 L651.80 116.27 L652.00 116.15 L652.20 116.00 L652.40 115.80 L652.60 115.55 L652.80 115.24 L653.00 114.86 L653.20 114.42 L653.40 113.89 L653.60 113.29 L653.80 112.60 L654.00 111.80 L654.20 110.88 L654.40 109.83 L654.60 108.61 L654.80 107.20 L655.00 105.53 L655.20 103.56 L655.40 101.21 L655.60 98.39 L655.80 95.01 L656.00 91.02 L656.20 86.39 L656.40 81.31 L656.60 76.18 L656.80 71.78 L657.00 69.07 L657.20 68.81 L657.40 71.07 L657.60 75.21 L657.80 80.26 L658.00 85.40 L658.20 90.14 L658.40 94.27 L658.60 97.76 L658.80 100.68 L659.00 103.12 L659.20 105.16 L659.40 106.89 L659.60 108.35 L659.80 109.60 L660.00 110.68 L660.20 111.62 L660.40 112.44 L660.60 113.16 L660.80 113.78 L661.00 114.32 L661.20 114.78 L661.40 115.17 L661.60 115.49 L661.80 115.75 L662.00 115.96 L662.20 116.13 L662.40 116.25 L662.60 116.34" fill="none" stroke="#3f9a3f" stroke-width="1.2" stroke-linejoin="round"/>
<path d="M493.80 135.85 L494.00 140.75 L494.20 145.09 L494.40 148.80 L494.60 151.92 L494.80 154.52 L495.00 156.69 L495.20 158.52 L495.40 160.06 L495.60 161.39 L495.80 162.52 L496.00 163.51 L496.20 164.37 L496.40 165.12 L496.60 165.77 L496.80 166.33 L497.00 166.82 L497.20 167.23 L497.40 167.58 L497.60 167.87 L497.80 168.09 L498.00 168.27 L498.20 168.41 L498.40 168.51 L498.60 168.58 L498.80 168.63 L499.00 168.66 L499.20 168.68 L499.40 168.69 L499.60 168.70 L499.80 168.70 L500.00 168.70 L500.20 168.70 L500.40 168.70 L500.60 168.69 L500.80 168.69 L501.00 168.67 L501.20 168.65 L501.40 168.62 L501.60 168.57 L501.80 168.49 L502.00 168.38 L502.20 168.24 L502.40 168.05 L502.60 167.81 L502.80 167.52 L503.00 167.16 L503.20 166.73 L503.40 166.23 L503.60 165.65 L503.80 164.98 L504.00 164.21 L504.20 163.32 L504.40 162.31 L504.60 161.14 L504.80 159.78 L505.00 158.18 L505.20 156.29 L505.40 154.04 L505.60 151.34 L505.80 148.11 L506.00 144.27 L506.20 139.81 L506.40 134.83 L506.60 129.71 L506.80 125.12 L507.00 122.03 L507.20 121.25 L507.40 123.03 L507.60 126.83 L507.80 131.74 L508.00 136.87 L508.20 141.67 L508.40 145.88 L508.60 149.47 L508.80 152.48 L509.00 154.99 L509.20 157.08 L509.40 158.85 L509.60 160.35 L509.80 161.63 L510.00 162.73 L510.20 163.69 L510.40 164.53 L510.60 165.25 L510.80 165.89 L511.00 166.44 L511.20 166.91 L511.40 167.31 L511.60 167.64 L511.80 167.92 L512.00 168.13 L512.20 168.30 L512.40 168.43 L512.60 168.52 L512.80 168.59 L513.00 168.63 L513.20 168.66 L513.40 168.68 L513.60 168.69 L513.80 168.70 L514.00 168.70 L514.20 168.70 L514.40 168.70 L514.60 168.70 L514.80 168.69 L515.00 168.68 L515.20 168.67 L515.40 168.65 L515.60 168.61 L515.80 168.55 L516.00 168.47 L516.20 168.36 L516.40 168.21 L516.60 168.01 L516.80 167.76 L517.00 167.45 L517.20 167.08 L517.40 166.64 L517.60 166.12 L517.80 165.52 L518.00 164.83 L518.20 164.04 L518.40 163.13 L518.60 162.09 L518.80 160.88 L519.00 159.48 L519.20 157.82 L519.40 155.87 L519.60 153.54 L519.80 150.74 L520.00 147.39 L520.20 143.43 L520.40 138.85 L520.60 133.80 L520.80 128.72 L521.00 124.35 L521.20 121.67 L521.40 121.41 L521.60 123.65 L521.80 127.76 L522.00 132.77 L522.20 137.87 L522.40 142.56 L522.60 146.65 L522.80 150.12 L523.00 153.02 L523.20 155.44 L523.40 157.46 L523.60 159.17 L523.80 160.62 L524.00 161.86 L524.20 162.93 L524.40 163.87 L524.60 164.68 L524.80 165.39 L525.00 166.01 L525.20 166.54 L525.40 167.00 L525.60 167.38 L525.80 167.70 L526.00 167.96 L526.20 168.17 L526.40 168.33 L526.60 168.45 L526.80 168.54 L527.00 168.60 L527.20 168.64 L527.40 168.67 L527.60 168.68 L527.80 168.69 L528.00 168.70 L528.20 168.70 L528.40 168.70 L528.60 168.70 L528.80 168.70 L529.00 168.69 L529.20 168.68 L529.40 168.67 L529.60 168.64 L529.80 168.60 L530.00 168.54 L530.20 168.45 L530.40 168.33 L530.60 168.17 L530.80 167.96 L531.00 167.70 L531.20 167.38 L531.40 167.00 L531.60 166.54 L531.80 166.01 L532.00 165.39 L532.20 164.68 L532.40 163.87 L532.60 162.93 L532.80 161.86 L533.00 160.62 L533.20 159.17 L533.40 157.46 L533.60 155.44 L533.80 153.02 L534.00 150.12 L534.20 146.65 L534.40 142.56 L534.60 137.87 L534.80 132.77 L535.00 127.76 L535.20 123.65 L535.40 121.41 L535.60 121.67 L535.80 124.35 L536.00 128.72 L536.20 133.80 L536.40 138.85 L536.60 143.43 L536.80 147.39 L537.00 150.74 L537.20 153.54 L537.40 155.87 L537.60 157.82 L537.80 159.48 L538.00 160.88 L538.20 162.09 L538.40 163.13 L538.60 164.04 L538.80 164.83 L539.00 165.52 L539.20 166.12 L539.40 166.64 L539.60 167.08 L539.80 167.45 L540.00 167.76 L540.20 168.01 L540.40 168.21 L540.60 168.36 L540.80 168.47 L541.00 168.55 L541.20 168.61 L541.40 168.65 L541.60 168.67 L541.80 168.68 L542.00 168.69 L542.20 168.70 L542.40 168.70 L542.60 168.70 L542.80 168.70 L543.00 168.70 L543.20 168.69 L543.40 168.68 L543.60 168.66 L543.80 168.63 L544.00 168.59 L544.20 168.52 L544.40 168.43 L544.60 168.30 L544.80 168.13 L545.00 167.92 L545.20 167.64 L545.40 167.31 L545.60 166.91 L545.80 166.44 L546.00 165.89 L546.20 165.25 L546.40 164.53 L546.60 163.69 L546.80 162.73 L547.00 161.63 L547.20 160.35 L547.40 158.85 L547.60 157.08 L547.80 154.99 L548.00 152.48 L548.20 149.47 L548.40 145.88 L548.60 141.67 L548.80 136.87 L549.00 131.74 L549.20 126.83 L549.40 123.03 L549.60 121.25 L549.80 122.03 L550.00 125.12 L550.20 129.71 L550.40 134.83 L550.60 139.81 L550.80 144.27 L551.00 148.11 L551.20 151.34 L551.40 154.04 L551.60 156.29 L551.80 158.18 L552.00 159.78 L552.20 161.14 L552.40 162.31 L552.60 163.32 L552.80 164.21 L553.00 164.98 L553.20 165.65 L553.40 166.23 L553.60 166.73 L553.80 167.16 L554.00 167.52 L554.20 167.81 L554.40 168.05 L554.60 168.24 L554.80 168.38 L555.00 168.49 L555.20 168.57 L555.40 168.62 L555.60 168.65 L555.80 168.67 L556.00 168.69 L556.20 168.69 L556.40 168.70 L556.60 168.70 L556.80 168.70 L557.00 168.70 L557.20 168.70 L557.40 168.69 L557.60 168.68 L557.80 168.66 L558.00 168.63 L558.20 168.58 L558.40 168.51 L558.60 168.41 L558.80 168.27 L559.00 168.09 L559.20 167.87 L559.40 167.58 L559.60 167.23 L559.80 166.82 L560.00 166.33 L560.20 165.77 L560.40 165.12 L560.60 164.37 L560.80 163.51 L561.00 162.52 L561.20 161.39 L561.40 160.06 L561.60 158.52 L561.80 156.69 L562.00 154.52 L562.20 151.92 L562.40 148.80 L562.60 145.09 L562.80 140.75 L563.00 135.85 L563.20 130.71 L563.40 125.95 L563.60 122.48 L563.80 121.20 L564.00 122.48 L564.20 125.95 L564.40 130.71 L564.60 135.85 L564.80 140.75 L565.00 145.09 L565.20 148.80 L565.40 151.92 L565.60 154.52 L565.80 156.69 L566.00 158.52 L566.20 160.06 L566.40 161.39 L566.60 162.52 L566.80 163.51 L567.00 164.37 L567.20 165.12 L567.40 165.77 L567.60 166.33 L567.80 166.82 L568.00 167.23 L568.20 167.58 L568.40 167.87 L568.60 168.09 L568.80 168.27 L569.00 168.41 L569.20 168.51 L569.40 168.58 L569.60 168.63 L569.80 168.66 L570.00 168.68 L570.20 168.69 L570.40 168.70 L570.60 168.70 L570.80 168.70 L571.00 168.70 L571.20 168.70 L571.40 168.69 L571.60 168.69 L571.80 168.67 L572.00 168.65 L572.20 168.62 L572.40 168.57 L572.60 168.49 L572.80 168.38 L573.00 168.24 L573.20 168.05 L573.40 167.81 L573.60 167.52 L573.80 167.16 L574.00 166.73 L574.20 166.23 L574.40 165.65 L574.60 164.98 L574.80 164.21 L575.00 163.32 L575.20 162.31 L575.40 161.14 L575.60 159.78 L575.80 158.18 L576.00 156.29 L576.20 154.04 L576.40 151.34 L576.60 148.11 L576.80 144.27 L577.00 139.81 L577.20 134.83 L577.40 129.71 L577.60 125.12 L577.80 122.03 L578.00 121.25 L578.20 123.03 L578.40 126.83 L578.60 131.74 L578.80 136.87 L579.00 141.67 L579.20 145.88 L579.40 149.47 L579.60 152.48 L579.80 154.99 L580.00 157.08 L580.20 158.85 L580.40 160.35 L580.60 161.63 L580.80 162.73 L581.00 163.69 L581.20 164.53 L581.40 165.25 L581.60 165.89 L581.80 166.44 L582.00 166.91 L582.20 167.31 L582.40 167.64 L582.60 167.92 L582.80 168.13 L583.00 168.30 L583.20 168.43 L583.40 168.52 L583.60 168.59 L583.80 168.63 L584.00 168.66 L584.20 168.68 L584.40 168.69 L584.60 168.70 L584.80 168.70 L585.00 168.70 L585.20 168.70 L585.40 168.70 L585.60 168.69 L585.80 168.68 L586.00 168.67 L586.20 168.65 L586.40 168.61 L586.60 168.55 L586.80 168.47 L587.00 168.36 L587.20 168.21 L587.40 168.01 L587.60 167.76 L587.80 167.45 L588.00 167.08 L588.20 166.64 L588.40 166.12 L588.60 165.52 L588.80 164.83 L589.00 164.04 L589.20 163.13 L589.40 162.09 L589.60 160.88 L589.80 159.48 L590.00 157.82 L590.20 155.87 L590.40 153.54 L590.60 150.74 L590.80 147.39 L591.00 143.43 L591.20 138.85 L591.40 133.80 L591.60 128.72 L591.80 124.35 L592.00 121.67 L592.20 121.41 L592.40 123.65 L592.60 127.76 L592.80 132.77 L593.00 137.87 L593.20 142.56 L593.40 146.65 L593.60 150.12 L593.80 153.02 L594.00 155.44 L594.20 157.46 L594.40 159.17 L594.60 160.62 L594.80 161.86 L595.00 162.93 L595.20 163.87 L595.40 164.68 L595.60 165.39 L595.80 166.01 L596.00 166.54 L596.20 167.00 L596.40 167.38 L596.60 167.70 L596.80 167.96 L597.00 168.17 L597.20 168.33 L597.40 168.45 L597.60 168.54 L597.80 168.60 L598.00 168.64 L598.20 168.67 L598.40 168.68 L598.60 168.69 L598.80 168.70 L599.00 168.70 L599.20 168.70 L599.40 168.70 L599.60 168.70 L599.80 168.69 L600.00 168.68 L600.20 168.67 L600.40 168.64 L600.60 168.60 L600.80 168.54 L601.00 168.45 L601.20 168.33 L601.40 168.17 L601.60 167.96 L601.80 167.70 L602.00 167.38 L602.20 167.00 L602.40 166.54 L602.60 166.01 L602.80 165.39 L603.00 164.68 L603.20 163.87 L603.40 162.93 L603.60 161.86 L603.80 160.62 L604.00 159.17 L604.20 157.46 L604.40 155.44 L604.60 153.02 L604.80 150.12 L605.00 146.65 L605.20 142.56 L605.40 137.87 L605.60 132.77 L605.80 127.76 L606.00 123.65 L606.20 121.41 L606.40 121.67 L606.60 124.35 L606.80 128.72 L607.00 133.80 L607.20 138.85 L607.40 143.43 L607.60 147.39 L607.80 150.74 L608.00 153.54 L608.20 155.87 L608.40 157.82 L608.60 159.48 L608.80 160.88 L609.00 162.09 L609.20 163.13 L609.40 164.04 L609.60 164.83 L609.80 165.52 L610.00 166.12 L610.20 166.64 L610.40 167.08 L610.60 167.45 L610.80 167.76 L611.00 168.01 L611.20 168.21 L611.40 168.36 L611.60 168.47 L611.80 168.55 L612.00 168.61 L612.20 168.65 L612.40 168.67 L612.60 168.68 L612.80 168.69 L613.00 168.70 L613.20 168.70 L613.40 168.70 L613.60 168.70 L613.80 168.70 L614.00 168.69 L614.20 168.68 L614.40 168.66 L614.60 168.63 L614.80 168.59 L615.00 168.52 L615.20 168.43 L615.40 168.30 L615.60 168.13 L615.80 167.92 L616.00 167.64 L616.20 167.31 L616.40 166.91 L616.60 166.44 L616.80 165.89 L617.00 165.25 L617.20 164.53 L617.40 163.69 L617.60 162.73 L617.80 161.63 L618.00 160.35 L618.20 158.85 L618.40 157.08 L618.60 154.99 L618.80 152.48 L619.00 149.47 L619.20 145.88 L619.40 141.67 L619.60 136.87 L619.80 131.74 L620.00 126.83 L620.20 123.03 L620.40 121.25 L620.60 122.03 L620.80 125.12 L621.00 129.71 L621.20 134.83 L621.40 139.81 L621.60 144.27 L621.80 148.11 L622.00 151.34 L622.20 154.04 L622.40 156.29 L622.60 158.18 L622.80 159.78 L623.00 161.14 L623.20 162.31 L623.40 163.32 L623.60 164.21 L623.80 164.98 L624.00 165.65 L624.20 166.23 L624.40 166.73 L624.60 167.16 L624.80 167.52 L625.00 167.81 L625.20 168.05 L625.40 168.24 L625.60 168.38 L625.80 168.49 L626.00 168.57 L626.20 168.62 L626.40 168.65 L626.60 168.67 L626.80 168.69 L627.00 168.69 L627.20 168.70 L627.40 168.70 L627.60 168.70 L627.80 168.70 L628.00 168.70 L628.20 168.69 L628.40 168.68 L628.60 168.66 L628.80 168.63 L629.00 168.58 L629.20 168.51 L629.40 168.41 L629.60 168.27 L629.80 168.09 L630.00 167.87 L630.20 167.58 L630.40 167.23 L630.60 166.82 L630.80 166.33 L631.00 165.77 L631.20 165.12 L631.40 164.37 L631.60 163.51 L631.80 162.52 L632.00 161.39 L632.20 160.06 L632.40 158.52 L632.60 156.69 L632.80 154.52 L633.00 151.92 L633.20 148.80 L633.40 145.09 L633.60 140.75 L633.80 135.85 L634.00 130.71 L634.20 125.95 L634.40 122.48 L634.60 121.20 L634.80 122.48 L635.00 125.95 L635.20 130.71 L635.40 135.85 L635.60 140.75 L635.80 145.09 L636.00 148.80 L636.20 151.92 L636.40 154.52 L636.60 156.69 L636.80 158.52 L637.00 160.06 L637.20 161.39 L637.40 162.52 L637.60 163.51 L637.80 164.37 L638.00 165.12 L638.20 165.77 L638.40 166.33 L638.60 166.82 L638.80 167.23 L639.00 167.58 L639.20 167.87 L639.40 168.09 L639.60 168.27 L639.80 168.41 L640.00 168.51 L640.20 168.58 L640.40 168.63 L640.60 168.66 L640.80 168.68 L641.00 168.69 L641.20 168.70 L641.40 168.70 L641.60 168.70 L641.80 168.70 L642.00 168.70 L642.20 168.69 L642.40 168.69 L642.60 168.67 L642.80 168.65 L643.00 168.62 L643.20 168.57 L643.40 168.49 L643.60 168.38 L643.80 168.24 L644.00 168.05 L644.20 167.81 L644.40 167.52 L644.60 167.16 L644.80 166.73 L645.00 166.23 L645.20 165.65 L645.40 164.98 L645.60 164.21 L645.80 163.32 L646.00 162.31 L646.20 161.14 L646.40 159.78 L646.60 158.18 L646.80 156.29 L647.00 154.04 L647.20 151.34 L647.40 148.11 L647.60 144.27 L647.80 139.81 L648.00 134.83 L648.20 129.71 L648.40 125.12 L648.60 122.03 L648.80 121.25 L649.00 123.03 L649.20 126.83 L649.40 131.74 L649.60 136.87 L649.80 141.67 L650.00 145.88 L650.20 149.47 L650.40 152.48 L650.60 154.99 L650.80 157.08 L651.00 158.85 L651.20 160.35 L651.40 161.63 L651.60 162.73 L651.80 163.69 L652.00 164.53 L652.20 165.25 L652.40 165.89 L652.60 166.44 L652.80 166.91 L653.00 167.31 L653.20 167.64 L653.40 167.92 L653.60 168.13 L653.80 168.30 L654.00 168.43 L654.20 168.52 L654.40 168.59 L654.60 168.63 L654.80 168.66 L655.00 168.68 L655.20 168.69 L655.40 168.70 L655.60 168.70 L655.80 168.70 L656.00 168.70 L656.20 168.70 L656.40 168.69 L656.60 168.68 L656.80 168.67 L657.00 168.65 L657.20 168.61 L657.40 168.55 L657.60 168.47 L657.80 168.36 L658.00 168.21 L658.20 168.01 L658.40 167.76 L658.60 167.45 L658.80 167.08 L659.00 166.64 L659.20 166.12 L659.40 165.52 L659.60 164.83 L659.80 164.04 L660.00 163.13 L660.20 162.09 L660.40 160.88 L660.60 159.48 L660.80 157.82 L661.00 155.87 L661.20 153.54 L661.40 150.74 L661.60 147.39 L661.80 143.43 L662.00 138.85 L662.20 133.80 L662.40 128.72 L662.60 124.35" fill="none" stroke="#3a3ad2" stroke-width="1.2" stroke-linejoin="round"/>
<rect x="493.30" y="15.50" width="169.90" height="155.80" fill="none" stroke="#666" stroke-width="1.35"/>
<path d="M535.86 171.30 v-2.20 M578.40 171.30 v-2.20 M620.94 171.30 v-2.20" stroke="#3a3a3a" stroke-width="0.90"/>
<path d="M514.59 171.30 v-1.40 M557.13 171.30 v-1.40 M599.67 171.30 v-1.40 M642.21 171.30 v-1.40" stroke="#3a3a3a" stroke-width="0.90"/>
<text x="484.99" y="183.60" font-size="11.00" fill="#000" stroke="#000" textLength="16.66" lengthAdjust="spacingAndGlyphs">-50</text>
<text x="527.50" y="183.60" font-size="11.00" fill="#000" stroke="#000" textLength="16.38" lengthAdjust="spacingAndGlyphs">-25</text>
<text x="575.04" y="183.60" font-size="11.00" fill="#000" stroke="#000" textLength="6.12" lengthAdjust="spacingAndGlyphs">0</text>
<text x="614.58" y="183.60" font-size="11.00" fill="#000" stroke="#000" textLength="12.24" lengthAdjust="spacingAndGlyphs">25</text>
<text x="657.16" y="183.60" font-size="11.00" fill="#000" stroke="#000" textLength="12.24" lengthAdjust="spacingAndGlyphs">50</text>
<text x="548.42" y="196.90" font-size="12.50" fill="#000" stroke="#000" textLength="52.75" lengthAdjust="spacingAndGlyphs">Time (µs)</text>
<text transform="translate(479.30 154.90) rotate(-90)" x="-1.07" y="0" font-size="12.80" fill="#000" stroke="#000" textLength="117.40" lengthAdjust="spacingAndGlyphs">Normalized intensity</text>
<text transform="translate(673.50 56.80) rotate(-90)" x="-0.25" y="0" font-size="10.90" fill="#1a1a1a" stroke="#1a1a1a" textLength="33.48" lengthAdjust="spacingAndGlyphs">46 kHz</text>
<text transform="translate(673.50 107.90) rotate(-90)" x="-0.45" y="0" font-size="10.90" fill="#2f8f2f" stroke="#2f8f2f" textLength="32.58" lengthAdjust="spacingAndGlyphs">86 kHz</text>
<text transform="translate(673.50 163.60) rotate(-90)" x="-0.77" y="0" font-size="10.90" fill="#2e2ec8" stroke="#2e2ec8" textLength="37.18" lengthAdjust="spacingAndGlyphs">108 kHz</text>
<text x="468.52" y="213.20" font-size="12.00" font-weight="bold" fill="#000" stroke="#000" textLength="6.89" lengthAdjust="spacingAndGlyphs">f)</text>
<path d="M501.30 361.90 L501.30 352.27 L501.80 352.46 L502.30 351.64 L502.80 350.60 L503.30 352.90 L503.80 350.07 L504.30 349.92 L504.80 352.19 L505.30 352.25 L505.80 351.39 L506.30 352.08 L506.80 353.01 L507.30 351.90 L507.80 353.02 L508.30 351.84 L508.80 351.50 L509.30 349.82 L509.80 351.05 L510.30 351.39 L510.80 351.76 L511.30 353.05 L511.80 351.41 L512.30 351.75 L512.80 351.55 L513.30 352.34 L513.80 351.32 L514.30 351.59 L514.80 351.39 L515.30 352.30 L515.80 349.18 L516.30 351.80 L516.80 351.54 L517.30 351.76 L517.80 351.72 L518.30 352.13 L518.80 352.86 L519.30 353.00 L519.80 351.48 L520.30 351.11 L520.80 352.73 L521.30 353.12 L521.80 353.41 L522.30 353.74 L522.80 352.25 L523.30 353.28 L523.80 352.29 L524.30 353.73 L524.80 352.53 L525.30 352.61 L525.80 350.81 L526.30 351.45 L526.80 353.32 L527.30 352.51 L527.80 352.33 L528.30 352.78 L528.80 353.57 L529.30 351.91 L529.80 352.33 L530.30 352.26 L530.80 349.08 L531.30 350.92 L531.80 352.03 L532.30 352.00 L532.80 352.34 L533.30 352.77 L533.80 350.64 L534.30 352.35 L534.80 352.81 L535.30 353.54 L535.80 352.59 L536.30 352.54 L536.80 351.74 L537.30 353.58 L537.80 352.77 L538.30 352.92 L538.80 352.71 L539.30 351.07 L539.80 351.65 L540.30 351.56 L540.80 353.04 L541.30 351.33 L541.80 352.90 L542.30 353.19 L542.80 352.78 L543.30 352.40 L543.80 352.83 L544.30 350.17 L544.80 353.58 L545.30 352.57 L545.80 351.55 L546.30 352.96 L546.80 352.81 L547.30 351.84 L547.80 352.23 L548.30 351.57 L548.80 352.99 L549.30 352.94 L549.80 352.44 L550.30 352.83 L550.80 352.52 L551.30 351.98 L551.80 352.07 L552.30 353.79 L552.80 352.73 L553.30 352.16 L553.80 354.15 L554.30 351.40 L554.80 350.65 L555.30 352.37 L555.80 351.36 L556.30 352.41 L556.80 353.50 L557.30 351.81 L557.80 351.86 L558.30 352.46 L558.80 353.36 L559.30 353.14 L559.80 353.71 L560.30 353.96 L560.80 353.99 L561.30 352.26 L561.80 351.67 L562.30 352.15 L562.80 352.30 L563.30 353.72 L563.80 351.62 L564.30 350.90 L564.80 352.44 L565.30 352.86 L565.80 353.22 L566.30 351.94 L566.80 350.13 L567.30 352.12 L567.80 351.79 L568.30 349.40 L568.80 350.68 L569.30 352.83 L569.80 350.32 L570.30 350.40 L570.80 351.91 L571.30 350.14 L571.80 349.38 L572.30 348.68 L572.80 349.54 L573.30 348.89 L573.80 348.59 L574.30 347.66 L574.80 347.37 L575.30 347.42 L575.80 344.83 L576.30 342.76 L576.80 344.31 L577.30 342.44 L577.80 340.81 L578.30 340.43 L578.80 340.28 L579.30 340.22 L579.80 338.73 L580.30 336.81 L580.80 336.92 L581.30 334.73 L581.80 331.73 L582.30 327.04 L582.80 320.93 L583.30 310.15 L583.80 296.00 L584.30 315.35 L584.80 323.61 L585.30 328.98 L585.80 333.06 L586.30 336.39 L586.80 335.98 L587.30 334.83 L587.80 335.77 L588.30 338.85 L588.80 338.16 L589.30 341.09 L589.80 341.55 L590.30 342.51 L590.80 343.12 L591.30 344.77 L591.80 344.78 L592.30 343.21 L592.80 343.95 L593.30 347.78 L593.80 347.08 L594.30 346.88 L594.80 346.00 L595.30 348.92 L595.80 347.63 L596.30 349.12 L596.80 350.87 L597.30 351.51 L597.80 351.81 L598.30 350.40 L598.80 349.58 L599.30 351.94 L599.80 349.76 L600.30 351.42 L600.80 351.71 L601.30 352.39 L601.80 351.01 L602.30 351.96 L602.80 351.45 L603.30 350.73 L603.80 352.59 L604.30 351.84 L604.80 352.45 L605.30 352.37 L605.80 352.89 L606.30 351.91 L606.80 352.92 L607.30 352.26 L607.80 352.51 L608.30 352.02 L608.80 353.52 L609.30 351.69 L609.80 353.13 L610.30 352.78 L610.80 351.94 L611.30 352.86 L611.80 353.24 L612.30 351.61 L612.80 353.26 L613.30 352.93 L613.80 353.14 L614.30 353.58 L614.80 353.06 L615.30 353.15 L615.80 354.27 L616.30 352.54 L616.80 352.94 L617.30 353.08 L617.80 352.81 L618.30 352.88 L618.80 354.25 L619.30 353.45 L619.80 352.62 L620.30 352.61 L620.80 353.14 L621.30 354.29 L621.80 352.51 L622.30 354.03 L622.80 353.67 L623.30 353.04 L623.80 353.69 L624.30 353.95 L624.80 353.66 L625.30 354.14 L625.80 353.33 L626.30 353.40 L626.80 353.90 L627.30 353.26 L627.80 351.11 L628.30 352.38 L628.80 354.50 L629.30 354.18 L629.80 354.27 L630.30 352.15 L630.80 352.41 L631.30 353.60 L631.80 353.41 L632.30 354.09 L632.80 353.77 L633.30 353.47 L633.80 353.03 L634.30 352.44 L634.80 353.45 L635.30 354.48 L635.80 353.16 L636.30 353.00 L636.80 353.77 L637.30 353.21 L637.80 353.41 L638.30 354.07 L638.80 354.41 L639.30 352.68 L639.80 353.46 L640.30 354.16 L640.80 353.47 L641.30 354.59 L641.80 354.76 L642.30 354.60 L642.80 354.53 L643.30 353.90 L643.80 353.36 L644.30 354.42 L644.80 353.68 L645.30 352.51 L645.80 353.50 L646.30 354.73 L646.80 353.05 L647.30 352.69 L647.80 354.00 L648.30 353.69 L648.80 354.14 L649.30 352.67 L649.80 353.09 L650.30 353.48 L650.80 353.72 L651.30 354.70 L651.80 353.56 L652.30 354.90 L652.80 354.50 L653.30 352.80 L653.80 353.90 L654.30 354.90 L654.80 353.98 L655.30 353.41 L655.80 353.84 L656.30 353.43 L656.80 354.07 L657.30 352.89 L657.80 354.08 L658.30 354.32 L658.80 353.94 L659.30 353.96 L659.80 354.25 L660.30 352.80 L660.80 353.23 L661.30 354.82 L661.80 354.16 L662.30 353.61 L662.80 352.88 L663.30 353.62 L663.80 354.98 L664.30 354.38 L664.80 353.10 L665.30 354.29 L665.80 353.39 L666.30 354.47 L666.80 354.18 L667.30 353.89 L667.50 361.90 Z" fill="#000"/>
<path d="M583.7 285.2 V320" stroke="#000" stroke-width="0.8"/>
<path d="M583.7 348 V360.5" stroke="#fff" stroke-width="0.9"/>
<path d="M531.80 268.60 L531.80 232.34 L532.15 232.66 L532.50 234.60 L532.85 237.04 L533.20 237.58 L533.55 237.98 L533.90 240.90 L534.25 240.23 L534.60 240.89 L534.95 242.76 L535.30 242.99 L535.65 245.22 L536.00 245.31 L536.35 245.63 L536.70 245.91 L537.05 247.79 L537.40 247.45 L537.75 247.75 L538.10 247.83 L538.45 247.76 L538.80 248.37 L539.15 246.96 L539.50 249.63 L539.85 250.30 L540.20 250.73 L540.55 250.97 L540.90 252.16 L541.25 250.88 L541.60 251.00 L541.95 252.13 L542.30 252.98 L542.65 251.26 L543.00 252.26 L543.35 252.18 L543.70 253.30 L544.05 252.28 L544.40 252.72 L544.75 253.41 L545.10 251.81 L545.45 254.35 L545.80 253.98 L546.15 254.29 L546.50 255.45 L546.85 253.74 L547.20 255.07 L547.55 255.03 L547.90 254.94 L548.25 255.28 L548.60 256.45 L548.95 256.75 L549.30 255.90 L549.65 256.52 L550.00 257.08 L550.35 256.20 L550.70 255.98 L551.05 255.59 L551.40 257.95 L551.75 256.14 L552.10 256.96 L552.45 257.04 L552.80 256.31 L553.15 255.42 L553.50 258.24 L553.85 256.90 L554.20 256.78 L554.55 257.98 L554.90 257.66 L555.25 259.04 L555.60 258.07 L555.95 259.06 L556.30 258.26 L556.65 258.74 L557.00 257.89 L557.35 257.89 L557.70 258.34 L558.05 258.13 L558.40 257.99 L558.75 258.39 L559.10 258.80 L559.45 259.41 L559.80 258.31 L560.15 260.59 L560.50 258.74 L560.85 259.82 L561.20 259.24 L561.55 260.02 L561.90 260.90 L562.25 259.20 L562.60 260.74 L562.95 259.93 L563.30 261.45 L563.65 260.50 L564.00 261.22 L564.35 259.60 L564.70 258.47 L565.05 261.44 L565.40 259.89 L565.75 260.21 L566.10 261.72 L566.45 261.59 L566.80 261.80 L567.15 261.77 L567.50 260.21 L567.85 260.99 L568.20 260.67 L568.55 260.17 L568.90 260.71 L569.25 261.10 L569.60 262.21 L569.95 261.85 L570.30 261.03 L570.65 259.85 L571.00 262.24 L571.35 262.29 L571.70 262.19 L572.05 260.86 L572.40 261.47 L572.75 260.67 L573.10 261.64 L573.45 261.99 L573.80 261.21 L574.15 261.51 L574.50 261.03 L574.85 261.82 L575.20 261.34 L575.55 262.53 L575.90 261.52 L576.25 263.16 L576.60 261.35 L576.95 263.30 L577.30 262.48 L577.65 262.52 L578.00 262.48 L578.35 263.08 L578.70 262.26 L579.05 261.34 L579.40 262.75 L579.75 262.71 L580.10 262.06 L580.45 262.60 L580.80 260.35 L581.15 262.28 L581.50 262.66 L581.85 261.62 L582.20 263.66 L582.55 262.05 L582.90 263.70 L583.25 263.43 L583.60 263.75 L583.95 261.96 L584.30 262.98 L584.65 263.43 L585.00 262.69 L585.35 261.64 L585.70 263.22 L586.05 263.47 L586.40 262.84 L586.75 262.05 L587.10 261.26 L587.45 263.51 L587.80 262.22 L588.15 263.72 L588.50 263.01 L588.85 263.62 L589.20 262.61 L589.55 261.85 L589.90 263.86 L590.25 262.09 L590.60 262.76 L590.95 263.33 L591.30 262.04 L591.65 262.39 L592.00 264.02 L592.35 262.41 L592.70 261.65 L593.05 262.74 L593.40 262.68 L593.75 263.70 L594.10 262.36 L594.45 263.20 L594.80 262.38 L595.15 263.59 L595.50 262.61 L595.85 263.83 L596.20 263.05 L596.55 263.19 L596.90 263.75 L597.25 264.23 L597.60 263.38 L597.95 264.56 L598.30 264.01 L598.65 263.73 L599.00 264.46 L599.35 264.44 L599.70 263.50 L600.05 263.36 L600.40 263.89 L600.75 262.62 L601.10 263.16 L601.45 264.80 L601.80 264.20 L602.15 263.14 L602.50 262.89 L602.85 263.20 L603.20 263.43 L603.55 264.67 L603.90 261.22 L604.25 262.89 L604.60 263.59 L604.95 264.32 L605.30 264.89 L605.65 262.81 L606.00 263.90 L606.35 263.91 L606.70 264.43 L607.05 265.17 L607.40 265.24 L607.75 264.87 L608.10 264.58 L608.45 263.08 L608.80 263.90 L609.15 263.49 L609.50 263.48 L609.85 263.35 L610.20 264.15 L610.55 264.42 L610.90 264.56 L611.25 264.66 L611.60 264.64 L611.95 263.23 L612.30 264.88 L612.65 263.80 L613.00 264.43 L613.35 263.94 L613.70 264.19 L614.05 264.00 L614.40 263.31 L614.75 264.24 L615.10 264.21 L615.45 264.00 L615.80 264.49 L616.15 264.52 L616.50 264.12 L616.85 264.20 L617.20 264.67 L617.55 264.79 L617.90 265.23 L618.25 264.11 L618.60 265.10 L618.95 264.99 L619.30 264.49 L619.65 264.54 L620.00 264.97 L620.35 264.27 L620.70 264.32 L621.05 264.38 L621.40 264.65 L621.75 265.05 L622.10 265.42 L622.45 264.90 L622.80 264.79 L623.15 265.21 L623.50 264.78 L623.85 264.93 L624.20 264.88 L624.55 264.44 L624.90 264.47 L625.25 265.07 L625.60 264.12 L625.95 264.82 L626.30 264.73 L626.65 264.44 L627.00 264.85 L627.35 265.65 L627.70 265.23 L628.05 264.88 L628.40 265.24 L628.75 265.15 L629.10 265.18 L629.45 264.88 L629.80 265.55 L630.15 265.64 L630.50 264.96 L630.85 264.74 L631.20 265.65 L631.55 265.04 L631.90 265.62 L632.25 264.76 L632.60 264.76 L632.95 265.38 L633.30 264.36 L633.65 265.65 L634.00 264.77 L634.35 265.28 L634.70 265.97 L635.05 264.89 L635.40 265.34 L635.75 265.28 L636.10 265.37 L636.45 265.24 L636.80 264.96 L637.15 265.89 L637.50 265.56 L637.85 265.06 L638.20 266.07 L638.55 266.05 L638.90 265.45 L639.25 265.98 L639.60 266.03 L639.95 265.04 L640.30 265.47 L640.65 266.14 L641.00 265.87 L641.35 265.99 L641.70 265.96 L642.05 265.78 L642.40 265.51 L642.75 265.53 L643.10 265.75 L643.45 265.83 L643.80 265.58 L644.15 265.74 L644.50 265.57 L644.85 265.47 L645.20 266.08 L645.55 264.50 L645.90 265.68 L646.25 265.75 L646.60 265.91 L646.95 266.34 L647.30 265.85 L647.65 266.17 L648.00 265.65 L648.35 265.33 L648.70 265.98 L649.05 265.71 L649.40 266.46 L649.75 265.31 L650.10 265.60 L650.45 265.99 L650.80 265.50 L651.15 266.06 L651.50 266.48 L651.85 265.82 L652.20 266.25 L652.55 266.43 L652.90 265.73 L653.25 265.44 L653.60 265.73 L653.95 265.74 L654.30 266.03 L654.65 265.80 L655.00 266.08 L655.35 265.67 L655.70 266.51 L656.05 266.15 L656.40 266.15 L656.75 266.62 L657.10 264.70 L657.45 265.97 L657.80 265.82 L658.15 266.00 L658.50 266.69 L658.85 266.25 L659.20 265.86 L659.55 265.72 L659.90 265.28 L660.25 265.73 L660.60 265.76 L660.95 266.00 L661.30 265.71 L661.65 264.95 L662.00 266.83 L662.35 266.69 L662.70 265.57 L663.05 265.90 L663.40 266.12 L663.75 265.94 L664.10 266.21 L664.45 265.81 L664.80 266.40 L665.15 266.41 L665.50 266.11 L665.85 266.60 L666.20 266.94 L666.55 266.89 L666.90 266.22 L667.25 266.50 L667.50 268.60 Z" fill="#000"/>
<path d="M536.87 248.58 L537.17 218.80 L538.07 218.80 L538.37 248.58 Z M535.92 248.58 L537.62 242.58 L539.32 248.58 Z M542.79 253.61 L543.09 221.30 L543.99 221.30 L544.29 253.61 Z M541.84 253.61 L543.54 247.61 L545.24 253.61 Z M548.71 257.15 L549.01 223.20 L549.91 223.20 L550.21 257.15 Z M547.76 257.15 L549.46 251.15 L551.16 257.15 Z M554.63 259.26 L554.93 224.20 L555.83 224.20 L556.13 259.26 Z M553.68 259.26 L555.38 253.26 L557.08 259.26 Z M560.55 260.99 L560.85 226.50 L561.75 226.50 L562.05 260.99 Z M559.60 260.99 L561.30 254.99 L563.00 260.99 Z M566.47 262.13 L566.77 229.00 L567.67 229.00 L567.97 262.13 Z M565.52 262.13 L567.22 256.13 L568.92 262.13 Z M572.39 262.88 L572.69 231.30 L573.59 231.30 L573.89 262.88 Z M571.44 262.88 L573.14 256.88 L574.84 262.88 Z M578.31 263.27 L578.61 233.80 L579.51 233.80 L579.81 263.27 Z M577.36 263.27 L579.06 257.27 L580.76 263.27 Z M584.23 263.66 L584.53 236.70 L585.43 236.70 L585.73 263.66 Z M583.28 263.66 L584.98 257.66 L586.68 263.66 Z M590.15 264.05 L590.45 239.10 L591.35 239.10 L591.65 264.05 Z M589.20 264.05 L590.90 258.05 L592.60 264.05 Z M596.07 264.43 L596.37 241.60 L597.27 241.60 L597.57 264.43 Z M595.21 264.43 L596.82 258.63 L598.43 264.43 Z M601.99 264.78 L602.29 243.90 L603.19 243.90 L603.49 264.78 Z M601.25 264.78 L602.74 259.41 L604.23 264.78 Z M607.91 265.13 L608.21 246.90 L609.11 246.90 L609.41 265.13 Z M607.33 265.13 L608.66 260.34 L609.99 265.13 Z M613.83 265.48 L614.13 249.00 L615.03 249.00 L615.33 265.48 Z M613.35 265.48 L614.58 261.08 L615.81 265.48 Z M619.75 265.82 L620.05 251.00 L620.95 251.00 L621.25 265.82 Z M619.37 265.82 L620.50 261.78 L621.63 265.82 Z M625.67 266.06 L625.97 253.70 L626.87 253.70 L627.17 266.06 Z M625.44 266.06 L626.42 262.56 L627.40 266.06 Z M631.59 266.29 L631.89 257.80 L632.79 257.80 L633.09 266.29 Z M631.59 266.29 L632.34 263.65 L633.09 266.29 Z M637.51 266.53 L637.81 260.20 L638.71 260.20 L639.01 266.53 Z M637.64 266.53 L638.26 264.36 L638.88 266.53 Z M643.43 266.77 L643.73 263.30 L644.63 263.30 L644.93 266.77 Z M643.73 266.77 L644.18 265.22 L644.63 266.77 Z M649.35 266.94 L649.65 264.70 L650.55 264.70 L650.85 266.94 Z M649.73 266.94 L650.10 265.66 L650.47 266.94 Z M655.27 267.09 L655.57 266.00 L656.47 266.00 L656.77 267.09 Z M655.71 267.09 L656.02 266.07 L656.33 267.09 Z M661.19 267.25 L661.49 266.80 L662.39 266.80 L662.69 267.25 Z M661.67 267.25 L661.94 266.37 L662.21 267.25 Z" fill="#000"/>
<path d="M533.6 256 V268" stroke="#fff" stroke-width="0.7"/>
<path d="M531.50 209.50 V268.30 H668.00" fill="none" stroke="#333" stroke-width="0.9"/>
<path d="M556.65 268.30 v-1.80 M581.80 268.30 v-1.80 M606.95 268.30 v-1.80 M632.10 268.30 v-1.80 M657.25 268.30 v-1.80" stroke="#333" stroke-width="0.80"/>
<path d="M531.50 219.40 h1.80 M531.50 243.90 h1.80" stroke="#333" stroke-width="0.80"/>
<text x="525.68" y="221.90" font-size="7.00" fill="#000" stroke="#000" textLength="3.14" lengthAdjust="spacingAndGlyphs">0</text>
<text x="518.27" y="246.40" font-size="7.00" fill="#000" stroke="#000" textLength="10.61" lengthAdjust="spacingAndGlyphs">-50</text>
<text x="514.17" y="270.80" font-size="7.00" fill="#000" stroke="#000" textLength="14.92" lengthAdjust="spacingAndGlyphs">-100</text>
<text x="529.87" y="276.20" font-size="7.00" fill="#000" stroke="#000" textLength="3.26" lengthAdjust="spacingAndGlyphs">0</text>
<text x="580.16" y="276.40" font-size="7.00" fill="#000" stroke="#000" textLength="3.89" lengthAdjust="spacingAndGlyphs">1</text>
<text x="630.45" y="276.40" font-size="7.00" fill="#000" stroke="#000" textLength="3.89" lengthAdjust="spacingAndGlyphs">2</text>
<text x="636.53" y="279.20" font-size="7.00" fill="#000" stroke="#000" textLength="20.75" lengthAdjust="spacingAndGlyphs">(MHz)</text>
<rect x="500.70" y="209.50" width="167.30" height="151.70" fill="none" stroke="#666" stroke-width="1.35"/>
<path d="M500.70 231.10 h2.20 M500.70 285.30 h2.20 M500.70 339.50 h2.20" stroke="#333" stroke-width="0.90"/>
<path d="M514.90 361.20 v-2.20 M584.20 361.20 v-2.20 M653.50 361.20 v-2.20" stroke="#333" stroke-width="0.90"/>
<text x="487.87" y="234.00" font-size="10.00" fill="#000" stroke="#000" textLength="11.12" lengthAdjust="spacingAndGlyphs">50</text>
<text x="493.43" y="288.20" font-size="10.00" fill="#000" stroke="#000" textLength="5.56" lengthAdjust="spacingAndGlyphs">0</text>
<text x="484.54" y="342.40" font-size="10.00" fill="#000" stroke="#000" textLength="14.45" lengthAdjust="spacingAndGlyphs">-50</text>
<text x="507.48" y="371.50" font-size="10.00" fill="#000" stroke="#000" textLength="13.69" lengthAdjust="spacingAndGlyphs">-20</text>
<text x="581.72" y="371.50" font-size="10.00" fill="#000" stroke="#000" textLength="5.56" lengthAdjust="spacingAndGlyphs">0</text>
<text x="648.38" y="371.50" font-size="10.00" fill="#000" stroke="#000" textLength="11.12" lengthAdjust="spacingAndGlyphs">20</text>
<text x="509.23" y="343.50" font-size="10.00" fill="#000" stroke="#000" textLength="3.35" lengthAdjust="spacingAndGlyphs">f</text>
<text x="511.97" y="346.90" font-size="7.00" fill="#000" stroke="#000" textLength="4.36" lengthAdjust="spacingAndGlyphs">o</text>
<text x="520.34" y="343.70" font-size="9.60" fill="#000" stroke="#000" textLength="42.32" lengthAdjust="spacingAndGlyphs">= 108 kHz</text>
<text x="541.25" y="385.50" font-size="12.40" fill="#000" stroke="#000" textLength="85.67" lengthAdjust="spacingAndGlyphs">Frequency (kHz)</text>
<text transform="translate(482.90 354.50) rotate(-90)" x="-0.99" y="0" font-size="11.80" fill="#000" stroke="#000" textLength="135.14" lengthAdjust="spacingAndGlyphs">Normalized intensity (dB)</text>
</svg>
</body></html>
